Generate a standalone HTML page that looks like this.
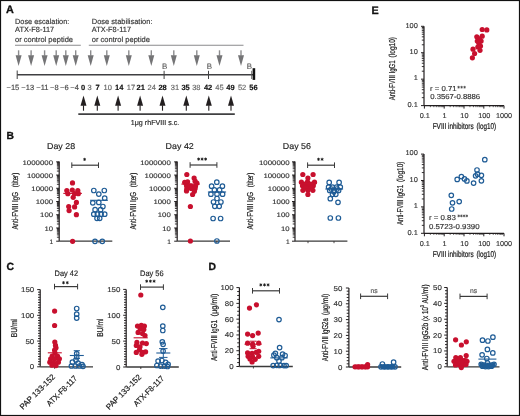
<!DOCTYPE html>
<html><head><meta charset="utf-8"><style>
html,body{margin:0;padding:0;background:#fff;}
svg{display:block;will-change:transform;}
text{text-rendering:geometricPrecision;}
svg{font-family:"Liberation Sans",sans-serif;}
</style></head><body>
<svg width="520" height="416" viewBox="0 0 520 416">
<rect x="0" y="0" width="520" height="416" fill="#fff"/>
<text x="6.0" y="13.4" font-size="10.8" text-anchor="start" font-weight="bold" fill="#111" stroke="#111" stroke-width="0.3">A</text>
<text x="15" y="23.5" font-size="7.6" text-anchor="start" font-weight="normal" fill="#333333" textLength="54.3" lengthAdjust="spacingAndGlyphs" stroke="#333333" stroke-width="0.15">Dose escalation:</text>
<text x="15" y="32.4" font-size="7.6" text-anchor="start" font-weight="normal" fill="#333333" textLength="39.2" lengthAdjust="spacingAndGlyphs" stroke="#333333" stroke-width="0.15">ATX-F8-117</text>
<text x="15" y="41.5" font-size="7.6" text-anchor="start" font-weight="normal" fill="#333333" textLength="58.0" lengthAdjust="spacingAndGlyphs" stroke="#333333" stroke-width="0.15">or control peptide</text>
<text x="91.8" y="23.5" font-size="7.6" text-anchor="start" font-weight="normal" fill="#333333" textLength="60.7" lengthAdjust="spacingAndGlyphs" stroke="#333333" stroke-width="0.15">Dose stabilisation:</text>
<text x="91.8" y="32.4" font-size="7.6" text-anchor="start" font-weight="normal" fill="#333333" textLength="39.2" lengthAdjust="spacingAndGlyphs" stroke="#333333" stroke-width="0.15">ATX-F8-117</text>
<text x="91.8" y="41.5" font-size="7.6" text-anchor="start" font-weight="normal" fill="#333333" textLength="58.2" lengthAdjust="spacingAndGlyphs" stroke="#333333" stroke-width="0.15">or control peptide</text>
<line x1="15" y1="45.2" x2="80.8" y2="45.2" stroke="#8a8a8c" stroke-width="1.1"/>
<line x1="88.8" y1="45.2" x2="243.5" y2="45.2" stroke="#8a8a8c" stroke-width="1.1"/>
<rect x="17.900000000000002" y="50.3" width="1.4" height="5.400000000000006" fill="#8c8c8e"/>
<path d="M15.600000000000001,55.2 L21.6,55.2 L18.6,66.0 Z" fill="#747476"/>
<rect x="30.400000000000002" y="50.3" width="1.4" height="5.400000000000006" fill="#8c8c8e"/>
<path d="M28.1,55.2 L34.1,55.2 L31.1,66.0 Z" fill="#747476"/>
<rect x="43.9" y="50.3" width="1.4" height="5.400000000000006" fill="#8c8c8e"/>
<path d="M41.6,55.2 L47.6,55.2 L44.6,66.0 Z" fill="#747476"/>
<rect x="55.5" y="50.3" width="1.4" height="5.400000000000006" fill="#8c8c8e"/>
<path d="M53.2,55.2 L59.2,55.2 L56.2,66.0 Z" fill="#747476"/>
<rect x="65.1" y="50.3" width="1.4" height="5.400000000000006" fill="#8c8c8e"/>
<path d="M62.8,55.2 L68.8,55.2 L65.8,66.0 Z" fill="#747476"/>
<rect x="75.0" y="50.3" width="1.4" height="5.400000000000006" fill="#8c8c8e"/>
<path d="M72.7,55.2 L78.7,55.2 L75.7,66.0 Z" fill="#747476"/>
<rect x="90.0" y="50.3" width="1.4" height="5.400000000000006" fill="#8c8c8e"/>
<path d="M87.7,55.2 L93.7,55.2 L90.7,66.0 Z" fill="#747476"/>
<rect x="106.1" y="50.3" width="1.4" height="5.400000000000006" fill="#8c8c8e"/>
<path d="M103.8,55.2 L109.8,55.2 L106.8,66.0 Z" fill="#747476"/>
<rect x="128.10000000000002" y="50.3" width="1.4" height="5.400000000000006" fill="#8c8c8e"/>
<path d="M125.80000000000001,55.2 L131.8,55.2 L128.8,66.0 Z" fill="#747476"/>
<rect x="150.60000000000002" y="50.3" width="1.4" height="5.400000000000006" fill="#8c8c8e"/>
<path d="M148.3,55.2 L154.3,55.2 L151.3,66.0 Z" fill="#747476"/>
<rect x="173.10000000000002" y="50.3" width="1.4" height="5.400000000000006" fill="#8c8c8e"/>
<path d="M170.8,55.2 L176.8,55.2 L173.8,66.0 Z" fill="#747476"/>
<rect x="196.10000000000002" y="50.3" width="1.4" height="5.400000000000006" fill="#8c8c8e"/>
<path d="M193.8,55.2 L199.8,55.2 L196.8,66.0 Z" fill="#747476"/>
<rect x="218.8" y="50.3" width="1.4" height="5.400000000000006" fill="#8c8c8e"/>
<path d="M216.5,55.2 L222.5,55.2 L219.5,66.0 Z" fill="#747476"/>
<rect x="240.3" y="50.3" width="1.4" height="5.400000000000006" fill="#8c8c8e"/>
<path d="M238.0,55.2 L244.0,55.2 L241.0,66.0 Z" fill="#747476"/>
<line x1="17.2" y1="74.8" x2="253" y2="74.8" stroke="#404042" stroke-width="1.6"/>
<line x1="17.2" y1="70.5" x2="17.2" y2="79.0" stroke="#404042" stroke-width="1.0"/>
<line x1="164.1" y1="70.8" x2="164.1" y2="79.0" stroke="#404042" stroke-width="1.0"/>
<line x1="208.5" y1="70.8" x2="208.5" y2="79.0" stroke="#404042" stroke-width="1.0"/>
<rect x="252.6" y="68.2" width="2.6" height="11.7" fill="#111"/>
<line x1="251.6" y1="70.8" x2="251.6" y2="79.0" stroke="#555" stroke-width="0.8"/>
<text x="164.6" y="68.5" font-size="7.9" text-anchor="middle" font-weight="normal" fill="#4a4a4a" stroke="#4a4a4a" stroke-width="0.05">B</text>
<text x="209.5" y="68.5" font-size="7.9" text-anchor="middle" font-weight="normal" fill="#4a4a4a" stroke="#4a4a4a" stroke-width="0.05">B</text>
<text x="249.5" y="68.5" font-size="7.9" text-anchor="middle" font-weight="normal" fill="#4a4a4a" stroke="#4a4a4a" stroke-width="0.05">B</text>
<text x="12.9" y="89.5" font-size="7.5" text-anchor="middle" font-weight="normal" fill="#444" stroke="#444" stroke-width="0.15">−15</text>
<text x="27.7" y="89.5" font-size="7.5" text-anchor="middle" font-weight="normal" fill="#444" stroke="#444" stroke-width="0.15">−13</text>
<text x="42.4" y="89.5" font-size="7.5" text-anchor="middle" font-weight="normal" fill="#444" stroke="#444" stroke-width="0.15">−11</text>
<text x="54.3" y="89.5" font-size="7.5" text-anchor="middle" font-weight="normal" fill="#444" stroke="#444" stroke-width="0.15">−8</text>
<text x="64.3" y="89.5" font-size="7.5" text-anchor="middle" font-weight="normal" fill="#444" stroke="#444" stroke-width="0.15">−6</text>
<text x="74.6" y="89.5" font-size="7.5" text-anchor="middle" font-weight="normal" fill="#444" stroke="#444" stroke-width="0.15">−4</text>
<text x="83.1" y="89.5" font-size="7.5" text-anchor="middle" font-weight="bold" fill="#111" stroke="#111" stroke-width="0.15">0</text>
<text x="89.5" y="89.5" font-size="7.5" text-anchor="middle" font-weight="normal" fill="#666" stroke="#666" stroke-width="0.15">3</text>
<text x="97.5" y="89.5" font-size="7.5" text-anchor="middle" font-weight="bold" fill="#111" stroke="#111" stroke-width="0.15">7</text>
<text x="107.7" y="89.5" font-size="7.5" text-anchor="middle" font-weight="normal" fill="#666" stroke="#666" stroke-width="0.15">10</text>
<text x="119.2" y="89.5" font-size="7.5" text-anchor="middle" font-weight="bold" fill="#111" stroke="#111" stroke-width="0.15">14</text>
<text x="131.0" y="89.5" font-size="7.5" text-anchor="middle" font-weight="normal" fill="#666" stroke="#666" stroke-width="0.15">17</text>
<text x="140.7" y="89.5" font-size="7.5" text-anchor="middle" font-weight="bold" fill="#111" stroke="#111" stroke-width="0.15">21</text>
<text x="151.7" y="89.5" font-size="7.5" text-anchor="middle" font-weight="normal" fill="#666" stroke="#666" stroke-width="0.15">24</text>
<text x="162.6" y="89.5" font-size="7.5" text-anchor="middle" font-weight="bold" fill="#111" stroke="#111" stroke-width="0.15">28</text>
<text x="175.0" y="89.5" font-size="7.5" text-anchor="middle" font-weight="normal" fill="#666" stroke="#666" stroke-width="0.15">31</text>
<text x="185.6" y="89.5" font-size="7.5" text-anchor="middle" font-weight="bold" fill="#111" stroke="#111" stroke-width="0.15">35</text>
<text x="196.3" y="89.5" font-size="7.5" text-anchor="middle" font-weight="normal" fill="#666" stroke="#666" stroke-width="0.15">38</text>
<text x="208.1" y="89.5" font-size="7.5" text-anchor="middle" font-weight="bold" fill="#111" stroke="#111" stroke-width="0.15">42</text>
<text x="219.4" y="89.5" font-size="7.5" text-anchor="middle" font-weight="normal" fill="#666" stroke="#666" stroke-width="0.15">45</text>
<text x="230.5" y="89.5" font-size="7.5" text-anchor="middle" font-weight="bold" fill="#111" stroke="#111" stroke-width="0.15">49</text>
<text x="242.1" y="89.5" font-size="7.5" text-anchor="middle" font-weight="normal" fill="#666" stroke="#666" stroke-width="0.15">52</text>
<text x="253.4" y="89.5" font-size="7.5" text-anchor="middle" font-weight="bold" fill="#111" stroke="#111" stroke-width="0.15">56</text>
<rect x="82.95" y="105.3" width="1.1" height="5.400000000000006" fill="#231f20"/>
<path d="M80.5,105.8 L86.5,105.8 L83.5,95.4 Z" fill="#231f20"/>
<rect x="96.75" y="105.3" width="1.1" height="5.400000000000006" fill="#231f20"/>
<path d="M94.3,105.8 L100.3,105.8 L97.3,95.4 Z" fill="#231f20"/>
<rect x="117.55" y="105.3" width="1.1" height="5.400000000000006" fill="#231f20"/>
<path d="M115.1,105.8 L121.1,105.8 L118.1,95.4 Z" fill="#231f20"/>
<rect x="139.54999999999998" y="105.3" width="1.1" height="5.400000000000006" fill="#231f20"/>
<path d="M137.1,105.8 L143.1,105.8 L140.1,95.4 Z" fill="#231f20"/>
<rect x="161.95" y="105.3" width="1.1" height="5.400000000000006" fill="#231f20"/>
<path d="M159.5,105.8 L165.5,105.8 L162.5,95.4 Z" fill="#231f20"/>
<rect x="185.75" y="105.3" width="1.1" height="5.400000000000006" fill="#231f20"/>
<path d="M183.3,105.8 L189.3,105.8 L186.3,95.4 Z" fill="#231f20"/>
<rect x="208.25" y="105.3" width="1.1" height="5.400000000000006" fill="#231f20"/>
<path d="M205.8,105.8 L211.8,105.8 L208.8,95.4 Z" fill="#231f20"/>
<rect x="230.45" y="105.3" width="1.1" height="5.400000000000006" fill="#231f20"/>
<path d="M228.0,105.8 L234.0,105.8 L231.0,95.4 Z" fill="#231f20"/>
<line x1="78.3" y1="114.1" x2="234.8" y2="114.1" stroke="#404042" stroke-width="1.6"/>
<text x="130.8" y="125.0" font-size="7.3" text-anchor="start" font-weight="normal" fill="#222" textLength="48.5" lengthAdjust="spacingAndGlyphs" stroke="#222" stroke-width="0.15">1μg rhFVIII s.c.</text>
<text x="6.6" y="139.4" font-size="10.3" text-anchor="start" font-weight="bold" fill="#111" stroke="#111" stroke-width="0.3">B</text>
<line x1="59.2" y1="161.5" x2="59.2" y2="241.2" stroke="#231f20" stroke-width="1.2"/>
<line x1="56.2" y1="241.2" x2="59.2" y2="241.2" stroke="#231f20" stroke-width="1.0"/>
<line x1="56.900000000000006" y1="237.21737315736553" x2="59.2" y2="237.21737315736553" stroke="#231f20" stroke-width="0.9"/>
<line x1="56.900000000000006" y1="234.88768580005885" x2="59.2" y2="234.88768580005885" stroke="#231f20" stroke-width="0.9"/>
<line x1="56.900000000000006" y1="233.23474631473104" x2="59.2" y2="233.23474631473104" stroke="#231f20" stroke-width="0.9"/>
<line x1="56.900000000000006" y1="231.95262684263446" x2="59.2" y2="231.95262684263446" stroke="#231f20" stroke-width="0.9"/>
<line x1="56.900000000000006" y1="230.9050589574244" x2="59.2" y2="230.9050589574244" stroke="#231f20" stroke-width="0.9"/>
<line x1="56.900000000000006" y1="230.01935293061138" x2="59.2" y2="230.01935293061138" stroke="#231f20" stroke-width="0.9"/>
<line x1="56.900000000000006" y1="229.25211947209658" x2="59.2" y2="229.25211947209658" stroke="#231f20" stroke-width="0.9"/>
<line x1="56.900000000000006" y1="228.5753716001177" x2="59.2" y2="228.5753716001177" stroke="#231f20" stroke-width="0.9"/>
<line x1="56.2" y1="227.97" x2="59.2" y2="227.97" stroke="#231f20" stroke-width="1.0"/>
<line x1="56.900000000000006" y1="223.98737315736554" x2="59.2" y2="223.98737315736554" stroke="#231f20" stroke-width="0.9"/>
<line x1="56.900000000000006" y1="221.65768580005886" x2="59.2" y2="221.65768580005886" stroke="#231f20" stroke-width="0.9"/>
<line x1="56.900000000000006" y1="220.00474631473105" x2="59.2" y2="220.00474631473105" stroke="#231f20" stroke-width="0.9"/>
<line x1="56.900000000000006" y1="218.72262684263447" x2="59.2" y2="218.72262684263447" stroke="#231f20" stroke-width="0.9"/>
<line x1="56.900000000000006" y1="217.6750589574244" x2="59.2" y2="217.6750589574244" stroke="#231f20" stroke-width="0.9"/>
<line x1="56.900000000000006" y1="216.7893529306114" x2="59.2" y2="216.7893529306114" stroke="#231f20" stroke-width="0.9"/>
<line x1="56.900000000000006" y1="216.0221194720966" x2="59.2" y2="216.0221194720966" stroke="#231f20" stroke-width="0.9"/>
<line x1="56.900000000000006" y1="215.34537160011774" x2="59.2" y2="215.34537160011774" stroke="#231f20" stroke-width="0.9"/>
<line x1="56.2" y1="214.73999999999998" x2="59.2" y2="214.73999999999998" stroke="#231f20" stroke-width="1.0"/>
<line x1="56.900000000000006" y1="210.75737315736552" x2="59.2" y2="210.75737315736552" stroke="#231f20" stroke-width="0.9"/>
<line x1="56.900000000000006" y1="208.42768580005884" x2="59.2" y2="208.42768580005884" stroke="#231f20" stroke-width="0.9"/>
<line x1="56.900000000000006" y1="206.77474631473103" x2="59.2" y2="206.77474631473103" stroke="#231f20" stroke-width="0.9"/>
<line x1="56.900000000000006" y1="205.49262684263445" x2="59.2" y2="205.49262684263445" stroke="#231f20" stroke-width="0.9"/>
<line x1="56.900000000000006" y1="204.44505895742438" x2="59.2" y2="204.44505895742438" stroke="#231f20" stroke-width="0.9"/>
<line x1="56.900000000000006" y1="203.55935293061137" x2="59.2" y2="203.55935293061137" stroke="#231f20" stroke-width="0.9"/>
<line x1="56.900000000000006" y1="202.79211947209657" x2="59.2" y2="202.79211947209657" stroke="#231f20" stroke-width="0.9"/>
<line x1="56.900000000000006" y1="202.11537160011773" x2="59.2" y2="202.11537160011773" stroke="#231f20" stroke-width="0.9"/>
<line x1="56.2" y1="201.51" x2="59.2" y2="201.51" stroke="#231f20" stroke-width="1.0"/>
<line x1="56.900000000000006" y1="197.52737315736553" x2="59.2" y2="197.52737315736553" stroke="#231f20" stroke-width="0.9"/>
<line x1="56.900000000000006" y1="195.19768580005885" x2="59.2" y2="195.19768580005885" stroke="#231f20" stroke-width="0.9"/>
<line x1="56.900000000000006" y1="193.54474631473104" x2="59.2" y2="193.54474631473104" stroke="#231f20" stroke-width="0.9"/>
<line x1="56.900000000000006" y1="192.26262684263446" x2="59.2" y2="192.26262684263446" stroke="#231f20" stroke-width="0.9"/>
<line x1="56.900000000000006" y1="191.2150589574244" x2="59.2" y2="191.2150589574244" stroke="#231f20" stroke-width="0.9"/>
<line x1="56.900000000000006" y1="190.32935293061138" x2="59.2" y2="190.32935293061138" stroke="#231f20" stroke-width="0.9"/>
<line x1="56.900000000000006" y1="189.56211947209658" x2="59.2" y2="189.56211947209658" stroke="#231f20" stroke-width="0.9"/>
<line x1="56.900000000000006" y1="188.8853716001177" x2="59.2" y2="188.8853716001177" stroke="#231f20" stroke-width="0.9"/>
<line x1="56.2" y1="188.27999999999997" x2="59.2" y2="188.27999999999997" stroke="#231f20" stroke-width="1.0"/>
<line x1="56.900000000000006" y1="184.2973731573655" x2="59.2" y2="184.2973731573655" stroke="#231f20" stroke-width="0.9"/>
<line x1="56.900000000000006" y1="181.96768580005883" x2="59.2" y2="181.96768580005883" stroke="#231f20" stroke-width="0.9"/>
<line x1="56.900000000000006" y1="180.31474631473102" x2="59.2" y2="180.31474631473102" stroke="#231f20" stroke-width="0.9"/>
<line x1="56.900000000000006" y1="179.03262684263444" x2="59.2" y2="179.03262684263444" stroke="#231f20" stroke-width="0.9"/>
<line x1="56.900000000000006" y1="177.98505895742437" x2="59.2" y2="177.98505895742437" stroke="#231f20" stroke-width="0.9"/>
<line x1="56.900000000000006" y1="177.09935293061136" x2="59.2" y2="177.09935293061136" stroke="#231f20" stroke-width="0.9"/>
<line x1="56.900000000000006" y1="176.33211947209657" x2="59.2" y2="176.33211947209657" stroke="#231f20" stroke-width="0.9"/>
<line x1="56.900000000000006" y1="175.6553716001177" x2="59.2" y2="175.6553716001177" stroke="#231f20" stroke-width="0.9"/>
<line x1="56.2" y1="175.04999999999998" x2="59.2" y2="175.04999999999998" stroke="#231f20" stroke-width="1.0"/>
<line x1="56.900000000000006" y1="171.06737315736552" x2="59.2" y2="171.06737315736552" stroke="#231f20" stroke-width="0.9"/>
<line x1="56.900000000000006" y1="168.73768580005884" x2="59.2" y2="168.73768580005884" stroke="#231f20" stroke-width="0.9"/>
<line x1="56.900000000000006" y1="167.08474631473103" x2="59.2" y2="167.08474631473103" stroke="#231f20" stroke-width="0.9"/>
<line x1="56.900000000000006" y1="165.80262684263445" x2="59.2" y2="165.80262684263445" stroke="#231f20" stroke-width="0.9"/>
<line x1="56.900000000000006" y1="164.75505895742438" x2="59.2" y2="164.75505895742438" stroke="#231f20" stroke-width="0.9"/>
<line x1="56.900000000000006" y1="163.86935293061137" x2="59.2" y2="163.86935293061137" stroke="#231f20" stroke-width="0.9"/>
<line x1="56.900000000000006" y1="163.10211947209658" x2="59.2" y2="163.10211947209658" stroke="#231f20" stroke-width="0.9"/>
<line x1="56.900000000000006" y1="162.42537160011773" x2="59.2" y2="162.42537160011773" stroke="#231f20" stroke-width="0.9"/>
<line x1="56.2" y1="161.82" x2="59.2" y2="161.82" stroke="#231f20" stroke-width="1.0"/>
<text x="53.1" y="243.95" font-size="6.6" text-anchor="end" font-weight="normal" fill="#333333" stroke="#333333" stroke-width="0.15">1</text>
<text x="53.1" y="230.72" font-size="6.6" text-anchor="end" font-weight="normal" fill="#333333" textLength="8.6" lengthAdjust="spacingAndGlyphs" stroke="#333333" stroke-width="0.15">10</text>
<text x="53.1" y="217.48999999999998" font-size="6.6" text-anchor="end" font-weight="normal" fill="#333333" textLength="13.0" lengthAdjust="spacingAndGlyphs" stroke="#333333" stroke-width="0.15">100</text>
<text x="53.1" y="204.26" font-size="6.6" text-anchor="end" font-weight="normal" fill="#333333" textLength="17.4" lengthAdjust="spacingAndGlyphs" stroke="#333333" stroke-width="0.15">1000</text>
<text x="53.1" y="191.02999999999997" font-size="6.6" text-anchor="end" font-weight="normal" fill="#333333" textLength="21.8" lengthAdjust="spacingAndGlyphs" stroke="#333333" stroke-width="0.15">10000</text>
<text x="53.1" y="177.79999999999998" font-size="6.6" text-anchor="end" font-weight="normal" fill="#333333" textLength="26.2" lengthAdjust="spacingAndGlyphs" stroke="#333333" stroke-width="0.15">100000</text>
<text x="53.1" y="164.57" font-size="6.6" text-anchor="end" font-weight="normal" fill="#333333" textLength="30.6" lengthAdjust="spacingAndGlyphs" stroke="#333333" stroke-width="0.15">1000000</text>
<line x1="59.2" y1="241.2" x2="112.3" y2="241.2" stroke="#3a3a3a" stroke-width="1.3"/>
<line x1="72.6" y1="241.2" x2="72.6" y2="243.2" stroke="#231f20" stroke-width="0.8"/>
<line x1="99.0" y1="241.2" x2="99.0" y2="243.2" stroke="#231f20" stroke-width="0.8"/>
<text x="47.0" y="149.4" font-size="8.5" text-anchor="start" font-weight="normal" fill="#222" textLength="28.2" lengthAdjust="spacingAndGlyphs" stroke="#222" stroke-width="0.15">Day 28</text>
<text transform="translate(17.6,229.6) rotate(-90)" x="0" y="0" font-size="8.6" text-anchor="start" font-weight="normal" fill="#1a1a1a" textLength="37.6" lengthAdjust="spacingAndGlyphs" stroke="#1a1a1a" stroke-width="0.22">Anti-FVIII IgG</text>
<text transform="translate(17.6,187.2) rotate(-90)" x="0" y="0" font-size="8.6" text-anchor="start" font-weight="normal" fill="#1a1a1a" textLength="14.4" lengthAdjust="spacingAndGlyphs" stroke="#1a1a1a" stroke-width="0.22">(titer)</text>
<line x1="177.2" y1="161.5" x2="177.2" y2="241.2" stroke="#231f20" stroke-width="1.2"/>
<line x1="174.2" y1="241.2" x2="177.2" y2="241.2" stroke="#231f20" stroke-width="1.0"/>
<line x1="174.89999999999998" y1="237.21737315736553" x2="177.2" y2="237.21737315736553" stroke="#231f20" stroke-width="0.9"/>
<line x1="174.89999999999998" y1="234.88768580005885" x2="177.2" y2="234.88768580005885" stroke="#231f20" stroke-width="0.9"/>
<line x1="174.89999999999998" y1="233.23474631473104" x2="177.2" y2="233.23474631473104" stroke="#231f20" stroke-width="0.9"/>
<line x1="174.89999999999998" y1="231.95262684263446" x2="177.2" y2="231.95262684263446" stroke="#231f20" stroke-width="0.9"/>
<line x1="174.89999999999998" y1="230.9050589574244" x2="177.2" y2="230.9050589574244" stroke="#231f20" stroke-width="0.9"/>
<line x1="174.89999999999998" y1="230.01935293061138" x2="177.2" y2="230.01935293061138" stroke="#231f20" stroke-width="0.9"/>
<line x1="174.89999999999998" y1="229.25211947209658" x2="177.2" y2="229.25211947209658" stroke="#231f20" stroke-width="0.9"/>
<line x1="174.89999999999998" y1="228.5753716001177" x2="177.2" y2="228.5753716001177" stroke="#231f20" stroke-width="0.9"/>
<line x1="174.2" y1="227.97" x2="177.2" y2="227.97" stroke="#231f20" stroke-width="1.0"/>
<line x1="174.89999999999998" y1="223.98737315736554" x2="177.2" y2="223.98737315736554" stroke="#231f20" stroke-width="0.9"/>
<line x1="174.89999999999998" y1="221.65768580005886" x2="177.2" y2="221.65768580005886" stroke="#231f20" stroke-width="0.9"/>
<line x1="174.89999999999998" y1="220.00474631473105" x2="177.2" y2="220.00474631473105" stroke="#231f20" stroke-width="0.9"/>
<line x1="174.89999999999998" y1="218.72262684263447" x2="177.2" y2="218.72262684263447" stroke="#231f20" stroke-width="0.9"/>
<line x1="174.89999999999998" y1="217.6750589574244" x2="177.2" y2="217.6750589574244" stroke="#231f20" stroke-width="0.9"/>
<line x1="174.89999999999998" y1="216.7893529306114" x2="177.2" y2="216.7893529306114" stroke="#231f20" stroke-width="0.9"/>
<line x1="174.89999999999998" y1="216.0221194720966" x2="177.2" y2="216.0221194720966" stroke="#231f20" stroke-width="0.9"/>
<line x1="174.89999999999998" y1="215.34537160011774" x2="177.2" y2="215.34537160011774" stroke="#231f20" stroke-width="0.9"/>
<line x1="174.2" y1="214.73999999999998" x2="177.2" y2="214.73999999999998" stroke="#231f20" stroke-width="1.0"/>
<line x1="174.89999999999998" y1="210.75737315736552" x2="177.2" y2="210.75737315736552" stroke="#231f20" stroke-width="0.9"/>
<line x1="174.89999999999998" y1="208.42768580005884" x2="177.2" y2="208.42768580005884" stroke="#231f20" stroke-width="0.9"/>
<line x1="174.89999999999998" y1="206.77474631473103" x2="177.2" y2="206.77474631473103" stroke="#231f20" stroke-width="0.9"/>
<line x1="174.89999999999998" y1="205.49262684263445" x2="177.2" y2="205.49262684263445" stroke="#231f20" stroke-width="0.9"/>
<line x1="174.89999999999998" y1="204.44505895742438" x2="177.2" y2="204.44505895742438" stroke="#231f20" stroke-width="0.9"/>
<line x1="174.89999999999998" y1="203.55935293061137" x2="177.2" y2="203.55935293061137" stroke="#231f20" stroke-width="0.9"/>
<line x1="174.89999999999998" y1="202.79211947209657" x2="177.2" y2="202.79211947209657" stroke="#231f20" stroke-width="0.9"/>
<line x1="174.89999999999998" y1="202.11537160011773" x2="177.2" y2="202.11537160011773" stroke="#231f20" stroke-width="0.9"/>
<line x1="174.2" y1="201.51" x2="177.2" y2="201.51" stroke="#231f20" stroke-width="1.0"/>
<line x1="174.89999999999998" y1="197.52737315736553" x2="177.2" y2="197.52737315736553" stroke="#231f20" stroke-width="0.9"/>
<line x1="174.89999999999998" y1="195.19768580005885" x2="177.2" y2="195.19768580005885" stroke="#231f20" stroke-width="0.9"/>
<line x1="174.89999999999998" y1="193.54474631473104" x2="177.2" y2="193.54474631473104" stroke="#231f20" stroke-width="0.9"/>
<line x1="174.89999999999998" y1="192.26262684263446" x2="177.2" y2="192.26262684263446" stroke="#231f20" stroke-width="0.9"/>
<line x1="174.89999999999998" y1="191.2150589574244" x2="177.2" y2="191.2150589574244" stroke="#231f20" stroke-width="0.9"/>
<line x1="174.89999999999998" y1="190.32935293061138" x2="177.2" y2="190.32935293061138" stroke="#231f20" stroke-width="0.9"/>
<line x1="174.89999999999998" y1="189.56211947209658" x2="177.2" y2="189.56211947209658" stroke="#231f20" stroke-width="0.9"/>
<line x1="174.89999999999998" y1="188.8853716001177" x2="177.2" y2="188.8853716001177" stroke="#231f20" stroke-width="0.9"/>
<line x1="174.2" y1="188.27999999999997" x2="177.2" y2="188.27999999999997" stroke="#231f20" stroke-width="1.0"/>
<line x1="174.89999999999998" y1="184.2973731573655" x2="177.2" y2="184.2973731573655" stroke="#231f20" stroke-width="0.9"/>
<line x1="174.89999999999998" y1="181.96768580005883" x2="177.2" y2="181.96768580005883" stroke="#231f20" stroke-width="0.9"/>
<line x1="174.89999999999998" y1="180.31474631473102" x2="177.2" y2="180.31474631473102" stroke="#231f20" stroke-width="0.9"/>
<line x1="174.89999999999998" y1="179.03262684263444" x2="177.2" y2="179.03262684263444" stroke="#231f20" stroke-width="0.9"/>
<line x1="174.89999999999998" y1="177.98505895742437" x2="177.2" y2="177.98505895742437" stroke="#231f20" stroke-width="0.9"/>
<line x1="174.89999999999998" y1="177.09935293061136" x2="177.2" y2="177.09935293061136" stroke="#231f20" stroke-width="0.9"/>
<line x1="174.89999999999998" y1="176.33211947209657" x2="177.2" y2="176.33211947209657" stroke="#231f20" stroke-width="0.9"/>
<line x1="174.89999999999998" y1="175.6553716001177" x2="177.2" y2="175.6553716001177" stroke="#231f20" stroke-width="0.9"/>
<line x1="174.2" y1="175.04999999999998" x2="177.2" y2="175.04999999999998" stroke="#231f20" stroke-width="1.0"/>
<line x1="174.89999999999998" y1="171.06737315736552" x2="177.2" y2="171.06737315736552" stroke="#231f20" stroke-width="0.9"/>
<line x1="174.89999999999998" y1="168.73768580005884" x2="177.2" y2="168.73768580005884" stroke="#231f20" stroke-width="0.9"/>
<line x1="174.89999999999998" y1="167.08474631473103" x2="177.2" y2="167.08474631473103" stroke="#231f20" stroke-width="0.9"/>
<line x1="174.89999999999998" y1="165.80262684263445" x2="177.2" y2="165.80262684263445" stroke="#231f20" stroke-width="0.9"/>
<line x1="174.89999999999998" y1="164.75505895742438" x2="177.2" y2="164.75505895742438" stroke="#231f20" stroke-width="0.9"/>
<line x1="174.89999999999998" y1="163.86935293061137" x2="177.2" y2="163.86935293061137" stroke="#231f20" stroke-width="0.9"/>
<line x1="174.89999999999998" y1="163.10211947209658" x2="177.2" y2="163.10211947209658" stroke="#231f20" stroke-width="0.9"/>
<line x1="174.89999999999998" y1="162.42537160011773" x2="177.2" y2="162.42537160011773" stroke="#231f20" stroke-width="0.9"/>
<line x1="174.2" y1="161.82" x2="177.2" y2="161.82" stroke="#231f20" stroke-width="1.0"/>
<text x="170.8" y="243.95" font-size="6.6" text-anchor="end" font-weight="normal" fill="#333333" stroke="#333333" stroke-width="0.15">1</text>
<text x="170.8" y="230.72" font-size="6.6" text-anchor="end" font-weight="normal" fill="#333333" textLength="8.6" lengthAdjust="spacingAndGlyphs" stroke="#333333" stroke-width="0.15">10</text>
<text x="170.8" y="217.48999999999998" font-size="6.6" text-anchor="end" font-weight="normal" fill="#333333" textLength="13.0" lengthAdjust="spacingAndGlyphs" stroke="#333333" stroke-width="0.15">100</text>
<text x="170.8" y="204.26" font-size="6.6" text-anchor="end" font-weight="normal" fill="#333333" textLength="17.4" lengthAdjust="spacingAndGlyphs" stroke="#333333" stroke-width="0.15">1000</text>
<text x="170.8" y="191.02999999999997" font-size="6.6" text-anchor="end" font-weight="normal" fill="#333333" textLength="21.8" lengthAdjust="spacingAndGlyphs" stroke="#333333" stroke-width="0.15">10000</text>
<text x="170.8" y="177.79999999999998" font-size="6.6" text-anchor="end" font-weight="normal" fill="#333333" textLength="26.2" lengthAdjust="spacingAndGlyphs" stroke="#333333" stroke-width="0.15">100000</text>
<text x="170.8" y="164.57" font-size="6.6" text-anchor="end" font-weight="normal" fill="#333333" textLength="30.6" lengthAdjust="spacingAndGlyphs" stroke="#333333" stroke-width="0.15">1000000</text>
<line x1="177.2" y1="241.2" x2="230.0" y2="241.2" stroke="#3a3a3a" stroke-width="1.3"/>
<line x1="190.4" y1="241.2" x2="190.4" y2="243.2" stroke="#231f20" stroke-width="0.8"/>
<line x1="216.8" y1="241.2" x2="216.8" y2="243.2" stroke="#231f20" stroke-width="0.8"/>
<text x="165.6" y="149.4" font-size="8.5" text-anchor="start" font-weight="normal" fill="#222" textLength="28.2" lengthAdjust="spacingAndGlyphs" stroke="#222" stroke-width="0.15">Day 42</text>
<text transform="translate(135.6,229.6) rotate(-90)" x="0" y="0" font-size="8.6" text-anchor="start" font-weight="normal" fill="#1a1a1a" textLength="37.6" lengthAdjust="spacingAndGlyphs" stroke="#1a1a1a" stroke-width="0.22">Anti-FVIII IgG</text>
<text transform="translate(135.6,187.2) rotate(-90)" x="0" y="0" font-size="8.6" text-anchor="start" font-weight="normal" fill="#1a1a1a" textLength="14.4" lengthAdjust="spacingAndGlyphs" stroke="#1a1a1a" stroke-width="0.22">(titer)</text>
<line x1="295.0" y1="161.5" x2="295.0" y2="241.2" stroke="#231f20" stroke-width="1.2"/>
<line x1="292.0" y1="241.2" x2="295.0" y2="241.2" stroke="#231f20" stroke-width="1.0"/>
<line x1="292.7" y1="237.21737315736553" x2="295.0" y2="237.21737315736553" stroke="#231f20" stroke-width="0.9"/>
<line x1="292.7" y1="234.88768580005885" x2="295.0" y2="234.88768580005885" stroke="#231f20" stroke-width="0.9"/>
<line x1="292.7" y1="233.23474631473104" x2="295.0" y2="233.23474631473104" stroke="#231f20" stroke-width="0.9"/>
<line x1="292.7" y1="231.95262684263446" x2="295.0" y2="231.95262684263446" stroke="#231f20" stroke-width="0.9"/>
<line x1="292.7" y1="230.9050589574244" x2="295.0" y2="230.9050589574244" stroke="#231f20" stroke-width="0.9"/>
<line x1="292.7" y1="230.01935293061138" x2="295.0" y2="230.01935293061138" stroke="#231f20" stroke-width="0.9"/>
<line x1="292.7" y1="229.25211947209658" x2="295.0" y2="229.25211947209658" stroke="#231f20" stroke-width="0.9"/>
<line x1="292.7" y1="228.5753716001177" x2="295.0" y2="228.5753716001177" stroke="#231f20" stroke-width="0.9"/>
<line x1="292.0" y1="227.97" x2="295.0" y2="227.97" stroke="#231f20" stroke-width="1.0"/>
<line x1="292.7" y1="223.98737315736554" x2="295.0" y2="223.98737315736554" stroke="#231f20" stroke-width="0.9"/>
<line x1="292.7" y1="221.65768580005886" x2="295.0" y2="221.65768580005886" stroke="#231f20" stroke-width="0.9"/>
<line x1="292.7" y1="220.00474631473105" x2="295.0" y2="220.00474631473105" stroke="#231f20" stroke-width="0.9"/>
<line x1="292.7" y1="218.72262684263447" x2="295.0" y2="218.72262684263447" stroke="#231f20" stroke-width="0.9"/>
<line x1="292.7" y1="217.6750589574244" x2="295.0" y2="217.6750589574244" stroke="#231f20" stroke-width="0.9"/>
<line x1="292.7" y1="216.7893529306114" x2="295.0" y2="216.7893529306114" stroke="#231f20" stroke-width="0.9"/>
<line x1="292.7" y1="216.0221194720966" x2="295.0" y2="216.0221194720966" stroke="#231f20" stroke-width="0.9"/>
<line x1="292.7" y1="215.34537160011774" x2="295.0" y2="215.34537160011774" stroke="#231f20" stroke-width="0.9"/>
<line x1="292.0" y1="214.73999999999998" x2="295.0" y2="214.73999999999998" stroke="#231f20" stroke-width="1.0"/>
<line x1="292.7" y1="210.75737315736552" x2="295.0" y2="210.75737315736552" stroke="#231f20" stroke-width="0.9"/>
<line x1="292.7" y1="208.42768580005884" x2="295.0" y2="208.42768580005884" stroke="#231f20" stroke-width="0.9"/>
<line x1="292.7" y1="206.77474631473103" x2="295.0" y2="206.77474631473103" stroke="#231f20" stroke-width="0.9"/>
<line x1="292.7" y1="205.49262684263445" x2="295.0" y2="205.49262684263445" stroke="#231f20" stroke-width="0.9"/>
<line x1="292.7" y1="204.44505895742438" x2="295.0" y2="204.44505895742438" stroke="#231f20" stroke-width="0.9"/>
<line x1="292.7" y1="203.55935293061137" x2="295.0" y2="203.55935293061137" stroke="#231f20" stroke-width="0.9"/>
<line x1="292.7" y1="202.79211947209657" x2="295.0" y2="202.79211947209657" stroke="#231f20" stroke-width="0.9"/>
<line x1="292.7" y1="202.11537160011773" x2="295.0" y2="202.11537160011773" stroke="#231f20" stroke-width="0.9"/>
<line x1="292.0" y1="201.51" x2="295.0" y2="201.51" stroke="#231f20" stroke-width="1.0"/>
<line x1="292.7" y1="197.52737315736553" x2="295.0" y2="197.52737315736553" stroke="#231f20" stroke-width="0.9"/>
<line x1="292.7" y1="195.19768580005885" x2="295.0" y2="195.19768580005885" stroke="#231f20" stroke-width="0.9"/>
<line x1="292.7" y1="193.54474631473104" x2="295.0" y2="193.54474631473104" stroke="#231f20" stroke-width="0.9"/>
<line x1="292.7" y1="192.26262684263446" x2="295.0" y2="192.26262684263446" stroke="#231f20" stroke-width="0.9"/>
<line x1="292.7" y1="191.2150589574244" x2="295.0" y2="191.2150589574244" stroke="#231f20" stroke-width="0.9"/>
<line x1="292.7" y1="190.32935293061138" x2="295.0" y2="190.32935293061138" stroke="#231f20" stroke-width="0.9"/>
<line x1="292.7" y1="189.56211947209658" x2="295.0" y2="189.56211947209658" stroke="#231f20" stroke-width="0.9"/>
<line x1="292.7" y1="188.8853716001177" x2="295.0" y2="188.8853716001177" stroke="#231f20" stroke-width="0.9"/>
<line x1="292.0" y1="188.27999999999997" x2="295.0" y2="188.27999999999997" stroke="#231f20" stroke-width="1.0"/>
<line x1="292.7" y1="184.2973731573655" x2="295.0" y2="184.2973731573655" stroke="#231f20" stroke-width="0.9"/>
<line x1="292.7" y1="181.96768580005883" x2="295.0" y2="181.96768580005883" stroke="#231f20" stroke-width="0.9"/>
<line x1="292.7" y1="180.31474631473102" x2="295.0" y2="180.31474631473102" stroke="#231f20" stroke-width="0.9"/>
<line x1="292.7" y1="179.03262684263444" x2="295.0" y2="179.03262684263444" stroke="#231f20" stroke-width="0.9"/>
<line x1="292.7" y1="177.98505895742437" x2="295.0" y2="177.98505895742437" stroke="#231f20" stroke-width="0.9"/>
<line x1="292.7" y1="177.09935293061136" x2="295.0" y2="177.09935293061136" stroke="#231f20" stroke-width="0.9"/>
<line x1="292.7" y1="176.33211947209657" x2="295.0" y2="176.33211947209657" stroke="#231f20" stroke-width="0.9"/>
<line x1="292.7" y1="175.6553716001177" x2="295.0" y2="175.6553716001177" stroke="#231f20" stroke-width="0.9"/>
<line x1="292.0" y1="175.04999999999998" x2="295.0" y2="175.04999999999998" stroke="#231f20" stroke-width="1.0"/>
<line x1="292.7" y1="171.06737315736552" x2="295.0" y2="171.06737315736552" stroke="#231f20" stroke-width="0.9"/>
<line x1="292.7" y1="168.73768580005884" x2="295.0" y2="168.73768580005884" stroke="#231f20" stroke-width="0.9"/>
<line x1="292.7" y1="167.08474631473103" x2="295.0" y2="167.08474631473103" stroke="#231f20" stroke-width="0.9"/>
<line x1="292.7" y1="165.80262684263445" x2="295.0" y2="165.80262684263445" stroke="#231f20" stroke-width="0.9"/>
<line x1="292.7" y1="164.75505895742438" x2="295.0" y2="164.75505895742438" stroke="#231f20" stroke-width="0.9"/>
<line x1="292.7" y1="163.86935293061137" x2="295.0" y2="163.86935293061137" stroke="#231f20" stroke-width="0.9"/>
<line x1="292.7" y1="163.10211947209658" x2="295.0" y2="163.10211947209658" stroke="#231f20" stroke-width="0.9"/>
<line x1="292.7" y1="162.42537160011773" x2="295.0" y2="162.42537160011773" stroke="#231f20" stroke-width="0.9"/>
<line x1="292.0" y1="161.82" x2="295.0" y2="161.82" stroke="#231f20" stroke-width="1.0"/>
<text x="289.6" y="243.95" font-size="6.6" text-anchor="end" font-weight="normal" fill="#333333" stroke="#333333" stroke-width="0.15">1</text>
<text x="289.6" y="230.72" font-size="6.6" text-anchor="end" font-weight="normal" fill="#333333" textLength="8.6" lengthAdjust="spacingAndGlyphs" stroke="#333333" stroke-width="0.15">10</text>
<text x="289.6" y="217.48999999999998" font-size="6.6" text-anchor="end" font-weight="normal" fill="#333333" textLength="13.0" lengthAdjust="spacingAndGlyphs" stroke="#333333" stroke-width="0.15">100</text>
<text x="289.6" y="204.26" font-size="6.6" text-anchor="end" font-weight="normal" fill="#333333" textLength="17.4" lengthAdjust="spacingAndGlyphs" stroke="#333333" stroke-width="0.15">1000</text>
<text x="289.6" y="191.02999999999997" font-size="6.6" text-anchor="end" font-weight="normal" fill="#333333" textLength="21.8" lengthAdjust="spacingAndGlyphs" stroke="#333333" stroke-width="0.15">10000</text>
<text x="289.6" y="177.79999999999998" font-size="6.6" text-anchor="end" font-weight="normal" fill="#333333" textLength="26.2" lengthAdjust="spacingAndGlyphs" stroke="#333333" stroke-width="0.15">100000</text>
<text x="289.6" y="164.57" font-size="6.6" text-anchor="end" font-weight="normal" fill="#333333" textLength="30.6" lengthAdjust="spacingAndGlyphs" stroke="#333333" stroke-width="0.15">1000000</text>
<line x1="295.0" y1="241.2" x2="347.4" y2="241.2" stroke="#3a3a3a" stroke-width="1.3"/>
<line x1="308.0" y1="241.2" x2="308.0" y2="243.2" stroke="#231f20" stroke-width="0.8"/>
<line x1="334.0" y1="241.2" x2="334.0" y2="243.2" stroke="#231f20" stroke-width="0.8"/>
<text x="282.8" y="149.4" font-size="8.5" text-anchor="start" font-weight="normal" fill="#222" textLength="28.2" lengthAdjust="spacingAndGlyphs" stroke="#222" stroke-width="0.15">Day 56</text>
<text transform="translate(252.5,229.6) rotate(-90)" x="0" y="0" font-size="8.6" text-anchor="start" font-weight="normal" fill="#1a1a1a" textLength="37.6" lengthAdjust="spacingAndGlyphs" stroke="#1a1a1a" stroke-width="0.22">Anti-FVIII IgG</text>
<text transform="translate(252.5,187.2) rotate(-90)" x="0" y="0" font-size="8.6" text-anchor="start" font-weight="normal" fill="#1a1a1a" textLength="14.4" lengthAdjust="spacingAndGlyphs" stroke="#1a1a1a" stroke-width="0.22">(titer)</text>
<line x1="71.8" y1="165.2" x2="98.5" y2="165.2" stroke="#3a3a3a" stroke-width="1.2"/>
<line x1="71.8" y1="162.39999999999998" x2="71.8" y2="168.0" stroke="#3a3a3a" stroke-width="1.0"/>
<line x1="98.5" y1="162.39999999999998" x2="98.5" y2="168.0" stroke="#3a3a3a" stroke-width="1.0"/>
<path d="M84.60,158.25L84.60,160.55M83.60,158.83L85.60,159.97M85.60,158.83L83.60,159.97" stroke="#1a1a1a" stroke-width="0.85" stroke-linecap="round"/>
<circle cx="84.6" cy="159.4" r="0.55" fill="#1a1a1a"/>
<line x1="190.1" y1="165.0" x2="216.9" y2="165.0" stroke="#3a3a3a" stroke-width="1.2"/>
<line x1="190.1" y1="162.2" x2="190.1" y2="167.8" stroke="#3a3a3a" stroke-width="1.0"/>
<line x1="216.9" y1="162.2" x2="216.9" y2="167.8" stroke="#3a3a3a" stroke-width="1.0"/>
<path d="M198.60,157.95L198.60,160.25M197.60,158.53L199.60,159.67M199.60,158.53L197.60,159.67" stroke="#1a1a1a" stroke-width="0.85" stroke-linecap="round"/>
<circle cx="198.6" cy="159.1" r="0.55" fill="#1a1a1a"/>
<path d="M202.10,157.95L202.10,160.25M201.10,158.53L203.10,159.67M203.10,158.53L201.10,159.67" stroke="#1a1a1a" stroke-width="0.85" stroke-linecap="round"/>
<circle cx="202.1" cy="159.1" r="0.55" fill="#1a1a1a"/>
<path d="M205.60,157.95L205.60,160.25M204.60,158.53L206.60,159.67M206.60,158.53L204.60,159.67" stroke="#1a1a1a" stroke-width="0.85" stroke-linecap="round"/>
<circle cx="205.6" cy="159.1" r="0.55" fill="#1a1a1a"/>
<line x1="307.6" y1="165.2" x2="334.5" y2="165.2" stroke="#3a3a3a" stroke-width="1.2"/>
<line x1="307.6" y1="162.39999999999998" x2="307.6" y2="168.0" stroke="#3a3a3a" stroke-width="1.0"/>
<line x1="334.5" y1="162.39999999999998" x2="334.5" y2="168.0" stroke="#3a3a3a" stroke-width="1.0"/>
<path d="M318.50,158.15L318.50,160.45M317.50,158.73L319.50,159.88M319.50,158.73L317.50,159.88" stroke="#1a1a1a" stroke-width="0.85" stroke-linecap="round"/>
<circle cx="318.5" cy="159.3" r="0.55" fill="#1a1a1a"/>
<path d="M322.10,158.15L322.10,160.45M321.10,158.73L323.10,159.88M323.10,158.73L321.10,159.88" stroke="#1a1a1a" stroke-width="0.85" stroke-linecap="round"/>
<circle cx="322.1" cy="159.3" r="0.55" fill="#1a1a1a"/>
<circle cx="72.50" cy="182.90" r="2.6" fill="#c8102e"/>
<circle cx="66.80" cy="190.50" r="2.6" fill="#c8102e"/>
<circle cx="72.30" cy="190.00" r="2.6" fill="#c8102e"/>
<circle cx="77.80" cy="190.50" r="2.6" fill="#c8102e"/>
<circle cx="67.80" cy="193.70" r="2.6" fill="#c8102e"/>
<circle cx="74.60" cy="193.70" r="2.6" fill="#c8102e"/>
<circle cx="78.30" cy="193.70" r="2.6" fill="#c8102e"/>
<circle cx="73.20" cy="197.30" r="2.6" fill="#c8102e"/>
<circle cx="76.40" cy="202.40" r="2.6" fill="#c8102e"/>
<circle cx="68.70" cy="206.50" r="2.6" fill="#c8102e"/>
<circle cx="74.60" cy="206.90" r="2.6" fill="#c8102e"/>
<circle cx="69.10" cy="210.60" r="2.6" fill="#c8102e"/>
<circle cx="76.40" cy="214.70" r="2.6" fill="#c8102e"/>
<circle cx="72.60" cy="241.30" r="2.6" fill="#c8102e"/>
<line x1="63.3" y1="193.4" x2="81.89999999999999" y2="193.4" stroke="#c8102e" stroke-width="1.1"/>
<circle cx="93.80" cy="190.50" r="2.25" fill="none" stroke="#1f5c96" stroke-width="1.2"/>
<circle cx="104.30" cy="190.50" r="2.25" fill="none" stroke="#1f5c96" stroke-width="1.2"/>
<circle cx="98.80" cy="194.10" r="2.25" fill="none" stroke="#1f5c96" stroke-width="1.2"/>
<circle cx="104.70" cy="198.20" r="2.25" fill="none" stroke="#1f5c96" stroke-width="1.2"/>
<circle cx="92.80" cy="202.80" r="2.25" fill="none" stroke="#1f5c96" stroke-width="1.2"/>
<circle cx="98.80" cy="202.40" r="2.25" fill="none" stroke="#1f5c96" stroke-width="1.2"/>
<circle cx="102.90" cy="206.50" r="2.25" fill="none" stroke="#1f5c96" stroke-width="1.2"/>
<circle cx="95.10" cy="209.70" r="2.25" fill="none" stroke="#1f5c96" stroke-width="1.2"/>
<circle cx="100.60" cy="209.70" r="2.25" fill="none" stroke="#1f5c96" stroke-width="1.2"/>
<circle cx="93.80" cy="214.20" r="2.25" fill="none" stroke="#1f5c96" stroke-width="1.2"/>
<circle cx="97.40" cy="214.20" r="2.25" fill="none" stroke="#1f5c96" stroke-width="1.2"/>
<circle cx="101.10" cy="214.20" r="2.25" fill="none" stroke="#1f5c96" stroke-width="1.2"/>
<circle cx="104.70" cy="214.20" r="2.25" fill="none" stroke="#1f5c96" stroke-width="1.2"/>
<circle cx="97.00" cy="218.30" r="2.25" fill="none" stroke="#1f5c96" stroke-width="1.2"/>
<circle cx="99.70" cy="218.30" r="2.25" fill="none" stroke="#1f5c96" stroke-width="1.2"/>
<circle cx="95.00" cy="241.30" r="2.25" fill="none" stroke="#1f5c96" stroke-width="1.2"/>
<circle cx="102.30" cy="241.30" r="2.25" fill="none" stroke="#1f5c96" stroke-width="1.2"/>
<line x1="90.1" y1="200.3" x2="107.9" y2="200.3" stroke="#1f5c96" stroke-width="1.1"/>
<circle cx="186.80" cy="174.50" r="2.6" fill="#c8102e"/>
<circle cx="194.10" cy="178.10" r="2.6" fill="#c8102e"/>
<circle cx="184.70" cy="182.30" r="2.6" fill="#c8102e"/>
<circle cx="187.60" cy="181.90" r="2.6" fill="#c8102e"/>
<circle cx="195.10" cy="181.20" r="2.6" fill="#c8102e"/>
<circle cx="196.90" cy="183.00" r="2.6" fill="#c8102e"/>
<circle cx="186.50" cy="185.50" r="2.6" fill="#c8102e"/>
<circle cx="190.80" cy="185.90" r="2.6" fill="#c8102e"/>
<circle cx="195.50" cy="185.90" r="2.6" fill="#c8102e"/>
<circle cx="186.80" cy="188.70" r="2.6" fill="#c8102e"/>
<circle cx="191.20" cy="188.40" r="2.6" fill="#c8102e"/>
<circle cx="195.10" cy="188.40" r="2.6" fill="#c8102e"/>
<circle cx="186.50" cy="190.90" r="2.6" fill="#c8102e"/>
<circle cx="194.40" cy="191.30" r="2.6" fill="#c8102e"/>
<circle cx="192.60" cy="194.50" r="2.6" fill="#c8102e"/>
<circle cx="190.40" cy="206.50" r="2.6" fill="#c8102e"/>
<circle cx="190.40" cy="241.00" r="2.6" fill="#c8102e"/>
<line x1="181.4" y1="184.1" x2="199.79999999999998" y2="184.1" stroke="#c8102e" stroke-width="1.1"/>
<circle cx="216.80" cy="182.20" r="2.25" fill="none" stroke="#1f5c96" stroke-width="1.2"/>
<circle cx="211.60" cy="186.20" r="2.25" fill="none" stroke="#1f5c96" stroke-width="1.2"/>
<circle cx="222.40" cy="186.20" r="2.25" fill="none" stroke="#1f5c96" stroke-width="1.2"/>
<circle cx="214.40" cy="189.90" r="2.25" fill="none" stroke="#1f5c96" stroke-width="1.2"/>
<circle cx="219.60" cy="189.90" r="2.25" fill="none" stroke="#1f5c96" stroke-width="1.2"/>
<circle cx="210.90" cy="194.20" r="2.25" fill="none" stroke="#1f5c96" stroke-width="1.2"/>
<circle cx="217.00" cy="194.20" r="2.25" fill="none" stroke="#1f5c96" stroke-width="1.2"/>
<circle cx="222.60" cy="194.20" r="2.25" fill="none" stroke="#1f5c96" stroke-width="1.2"/>
<circle cx="217.00" cy="198.50" r="2.25" fill="none" stroke="#1f5c96" stroke-width="1.2"/>
<circle cx="213.50" cy="202.00" r="2.25" fill="none" stroke="#1f5c96" stroke-width="1.2"/>
<circle cx="220.90" cy="202.00" r="2.25" fill="none" stroke="#1f5c96" stroke-width="1.2"/>
<circle cx="214.80" cy="206.30" r="2.25" fill="none" stroke="#1f5c96" stroke-width="1.2"/>
<circle cx="219.20" cy="206.30" r="2.25" fill="none" stroke="#1f5c96" stroke-width="1.2"/>
<circle cx="213.10" cy="218.50" r="2.25" fill="none" stroke="#1f5c96" stroke-width="1.2"/>
<circle cx="220.60" cy="218.50" r="2.25" fill="none" stroke="#1f5c96" stroke-width="1.2"/>
<circle cx="216.90" cy="241.00" r="2.25" fill="none" stroke="#1f5c96" stroke-width="1.2"/>
<line x1="207.9" y1="192.0" x2="226.1" y2="192.0" stroke="#1f5c96" stroke-width="1.1"/>
<circle cx="302.80" cy="174.50" r="2.6" fill="#c8102e"/>
<circle cx="313.10" cy="174.50" r="2.6" fill="#c8102e"/>
<circle cx="307.90" cy="178.00" r="2.6" fill="#c8102e"/>
<circle cx="301.40" cy="182.20" r="2.6" fill="#c8102e"/>
<circle cx="307.50" cy="181.80" r="2.6" fill="#c8102e"/>
<circle cx="314.50" cy="182.20" r="2.6" fill="#c8102e"/>
<circle cx="302.50" cy="185.70" r="2.6" fill="#c8102e"/>
<circle cx="307.90" cy="185.50" r="2.6" fill="#c8102e"/>
<circle cx="313.30" cy="185.70" r="2.6" fill="#c8102e"/>
<circle cx="307.50" cy="188.40" r="2.6" fill="#c8102e"/>
<circle cx="302.90" cy="190.30" r="2.6" fill="#c8102e"/>
<circle cx="312.90" cy="190.30" r="2.6" fill="#c8102e"/>
<circle cx="307.90" cy="194.50" r="2.6" fill="#c8102e"/>
<circle cx="304.80" cy="184.00" r="2.6" fill="#c8102e"/>
<circle cx="311.00" cy="184.00" r="2.6" fill="#c8102e"/>
<circle cx="304.80" cy="188.00" r="2.6" fill="#c8102e"/>
<circle cx="311.00" cy="188.00" r="2.6" fill="#c8102e"/>
<circle cx="308.00" cy="190.50" r="2.6" fill="#c8102e"/>
<line x1="299.4" y1="183.5" x2="316.6" y2="183.5" stroke="#c8102e" stroke-width="1.1"/>
<circle cx="329.20" cy="182.40" r="2.25" fill="none" stroke="#1f5c96" stroke-width="1.2"/>
<circle cx="339.10" cy="182.40" r="2.25" fill="none" stroke="#1f5c96" stroke-width="1.2"/>
<circle cx="328.60" cy="187.10" r="2.25" fill="none" stroke="#1f5c96" stroke-width="1.2"/>
<circle cx="332.50" cy="187.10" r="2.25" fill="none" stroke="#1f5c96" stroke-width="1.2"/>
<circle cx="336.40" cy="187.10" r="2.25" fill="none" stroke="#1f5c96" stroke-width="1.2"/>
<circle cx="340.30" cy="187.10" r="2.25" fill="none" stroke="#1f5c96" stroke-width="1.2"/>
<circle cx="329.70" cy="190.40" r="2.25" fill="none" stroke="#1f5c96" stroke-width="1.2"/>
<circle cx="334.20" cy="190.40" r="2.25" fill="none" stroke="#1f5c96" stroke-width="1.2"/>
<circle cx="338.60" cy="190.40" r="2.25" fill="none" stroke="#1f5c96" stroke-width="1.2"/>
<circle cx="332.50" cy="194.30" r="2.25" fill="none" stroke="#1f5c96" stroke-width="1.2"/>
<circle cx="335.80" cy="194.30" r="2.25" fill="none" stroke="#1f5c96" stroke-width="1.2"/>
<circle cx="330.30" cy="198.70" r="2.25" fill="none" stroke="#1f5c96" stroke-width="1.2"/>
<circle cx="338.00" cy="202.30" r="2.25" fill="none" stroke="#1f5c96" stroke-width="1.2"/>
<circle cx="330.30" cy="218.00" r="2.25" fill="none" stroke="#1f5c96" stroke-width="1.2"/>
<circle cx="338.40" cy="218.00" r="2.25" fill="none" stroke="#1f5c96" stroke-width="1.2"/>
<circle cx="331.20" cy="189.00" r="2.25" fill="none" stroke="#1f5c96" stroke-width="1.2"/>
<circle cx="337.00" cy="189.00" r="2.25" fill="none" stroke="#1f5c96" stroke-width="1.2"/>
<circle cx="333.80" cy="191.80" r="2.25" fill="none" stroke="#1f5c96" stroke-width="1.2"/>
<line x1="325.3" y1="189.0" x2="343.09999999999997" y2="189.0" stroke="#1f5c96" stroke-width="1.1"/>
<text x="371.6" y="13.6" font-size="10.8" text-anchor="start" font-weight="bold" fill="#111" stroke="#111" stroke-width="0.3">E</text>
<line x1="424.0" y1="26.3" x2="424.0" y2="105.6" stroke="#231f20" stroke-width="1.2"/>
<line x1="421.0" y1="105.6" x2="424.0" y2="105.6" stroke="#231f20" stroke-width="1.0"/>
<line x1="421.8" y1="97.64277378128209" x2="424.0" y2="97.64277378128209" stroke="#231f20" stroke-width="0.9"/>
<line x1="421.8" y1="92.98809483357692" x2="424.0" y2="92.98809483357692" stroke="#231f20" stroke-width="0.9"/>
<line x1="421.8" y1="89.68554756256418" x2="424.0" y2="89.68554756256418" stroke="#231f20" stroke-width="0.9"/>
<line x1="421.8" y1="87.12389288538456" x2="424.0" y2="87.12389288538456" stroke="#231f20" stroke-width="0.9"/>
<line x1="421.8" y1="85.03086861485902" x2="424.0" y2="85.03086861485902" stroke="#231f20" stroke-width="0.9"/>
<line x1="421.8" y1="83.26124180895647" x2="424.0" y2="83.26124180895647" stroke="#231f20" stroke-width="0.9"/>
<line x1="421.8" y1="81.72832134384629" x2="424.0" y2="81.72832134384629" stroke="#231f20" stroke-width="0.9"/>
<line x1="421.8" y1="80.37618966715384" x2="424.0" y2="80.37618966715384" stroke="#231f20" stroke-width="0.9"/>
<line x1="421.0" y1="79.16666666666666" x2="424.0" y2="79.16666666666666" stroke="#231f20" stroke-width="1.0"/>
<line x1="421.8" y1="71.20944044794875" x2="424.0" y2="71.20944044794875" stroke="#231f20" stroke-width="0.9"/>
<line x1="421.8" y1="66.55476150024359" x2="424.0" y2="66.55476150024359" stroke="#231f20" stroke-width="0.9"/>
<line x1="421.8" y1="63.25221422923085" x2="424.0" y2="63.25221422923085" stroke="#231f20" stroke-width="0.9"/>
<line x1="421.8" y1="60.690559552051226" x2="424.0" y2="60.690559552051226" stroke="#231f20" stroke-width="0.9"/>
<line x1="421.8" y1="58.59753528152568" x2="424.0" y2="58.59753528152568" stroke="#231f20" stroke-width="0.9"/>
<line x1="421.8" y1="56.82790847562313" x2="424.0" y2="56.82790847562313" stroke="#231f20" stroke-width="0.9"/>
<line x1="421.8" y1="55.29498801051295" x2="424.0" y2="55.29498801051295" stroke="#231f20" stroke-width="0.9"/>
<line x1="421.8" y1="53.9428563338205" x2="424.0" y2="53.9428563338205" stroke="#231f20" stroke-width="0.9"/>
<line x1="421.0" y1="52.73333333333333" x2="424.0" y2="52.73333333333333" stroke="#231f20" stroke-width="1.0"/>
<line x1="421.8" y1="44.77610711461543" x2="424.0" y2="44.77610711461543" stroke="#231f20" stroke-width="0.9"/>
<line x1="421.8" y1="40.12142816691025" x2="424.0" y2="40.12142816691025" stroke="#231f20" stroke-width="0.9"/>
<line x1="421.8" y1="36.81888089589752" x2="424.0" y2="36.81888089589752" stroke="#231f20" stroke-width="0.9"/>
<line x1="421.8" y1="34.257226218717896" x2="424.0" y2="34.257226218717896" stroke="#231f20" stroke-width="0.9"/>
<line x1="421.8" y1="32.16420194819234" x2="424.0" y2="32.16420194819234" stroke="#231f20" stroke-width="0.9"/>
<line x1="421.8" y1="30.394575142289806" x2="424.0" y2="30.394575142289806" stroke="#231f20" stroke-width="0.9"/>
<line x1="421.8" y1="28.86165467717962" x2="424.0" y2="28.86165467717962" stroke="#231f20" stroke-width="0.9"/>
<line x1="421.8" y1="27.509523000487174" x2="424.0" y2="27.509523000487174" stroke="#231f20" stroke-width="0.9"/>
<line x1="421.0" y1="26.299999999999997" x2="424.0" y2="26.299999999999997" stroke="#231f20" stroke-width="1.0"/>
<text x="417.8" y="106.89999999999999" font-size="7.0" text-anchor="end" font-weight="normal" fill="#333333" textLength="10.31" lengthAdjust="spacingAndGlyphs" stroke="#333333" stroke-width="0.15">0.1</text>
<text x="417.8" y="80.46666666666665" font-size="7.0" text-anchor="end" font-weight="normal" fill="#333333" textLength="4.13" lengthAdjust="spacingAndGlyphs" stroke="#333333" stroke-width="0.15">1</text>
<text x="417.8" y="54.033333333333324" font-size="7.0" text-anchor="end" font-weight="normal" fill="#333333" textLength="8.25" lengthAdjust="spacingAndGlyphs" stroke="#333333" stroke-width="0.15">10</text>
<text x="417.8" y="27.599999999999998" font-size="7.0" text-anchor="end" font-weight="normal" fill="#333333" textLength="12.38" lengthAdjust="spacingAndGlyphs" stroke="#333333" stroke-width="0.15">100</text>
<line x1="424.0" y1="105.6" x2="504.0" y2="105.6" stroke="#231f20" stroke-width="1.2"/>
<line x1="424.4" y1="105.6" x2="424.4" y2="108.6" stroke="#231f20" stroke-width="1.0"/>
<line x1="430.3603939141468" y1="105.6" x2="430.3603939141468" y2="107.19999999999999" stroke="#231f20" stroke-width="0.7"/>
<line x1="433.8470008434493" y1="105.6" x2="433.8470008434493" y2="107.19999999999999" stroke="#231f20" stroke-width="0.7"/>
<line x1="436.32078782829365" y1="105.6" x2="436.32078782829365" y2="107.19999999999999" stroke="#231f20" stroke-width="0.7"/>
<line x1="438.23960608585315" y1="105.6" x2="438.23960608585315" y2="107.19999999999999" stroke="#231f20" stroke-width="0.7"/>
<line x1="439.8073947575961" y1="105.6" x2="439.8073947575961" y2="107.19999999999999" stroke="#231f20" stroke-width="0.7"/>
<line x1="441.13294119228226" y1="105.6" x2="441.13294119228226" y2="107.19999999999999" stroke="#231f20" stroke-width="0.7"/>
<line x1="442.2811817424405" y1="105.6" x2="442.2811817424405" y2="107.19999999999999" stroke="#231f20" stroke-width="0.7"/>
<line x1="443.2940016868986" y1="105.6" x2="443.2940016868986" y2="107.19999999999999" stroke="#231f20" stroke-width="0.7"/>
<line x1="444.2" y1="105.6" x2="444.2" y2="108.6" stroke="#231f20" stroke-width="1.0"/>
<line x1="450.1603939141468" y1="105.6" x2="450.1603939141468" y2="107.19999999999999" stroke="#231f20" stroke-width="0.7"/>
<line x1="453.6470008434493" y1="105.6" x2="453.6470008434493" y2="107.19999999999999" stroke="#231f20" stroke-width="0.7"/>
<line x1="456.12078782829366" y1="105.6" x2="456.12078782829366" y2="107.19999999999999" stroke="#231f20" stroke-width="0.7"/>
<line x1="458.03960608585317" y1="105.6" x2="458.03960608585317" y2="107.19999999999999" stroke="#231f20" stroke-width="0.7"/>
<line x1="459.6073947575961" y1="105.6" x2="459.6073947575961" y2="107.19999999999999" stroke="#231f20" stroke-width="0.7"/>
<line x1="460.93294119228227" y1="105.6" x2="460.93294119228227" y2="107.19999999999999" stroke="#231f20" stroke-width="0.7"/>
<line x1="462.0811817424405" y1="105.6" x2="462.0811817424405" y2="107.19999999999999" stroke="#231f20" stroke-width="0.7"/>
<line x1="463.09400168689865" y1="105.6" x2="463.09400168689865" y2="107.19999999999999" stroke="#231f20" stroke-width="0.7"/>
<line x1="464.0" y1="105.6" x2="464.0" y2="108.6" stroke="#231f20" stroke-width="1.0"/>
<line x1="469.96039391414683" y1="105.6" x2="469.96039391414683" y2="107.19999999999999" stroke="#231f20" stroke-width="0.7"/>
<line x1="473.4470008434493" y1="105.6" x2="473.4470008434493" y2="107.19999999999999" stroke="#231f20" stroke-width="0.7"/>
<line x1="475.92078782829367" y1="105.6" x2="475.92078782829367" y2="107.19999999999999" stroke="#231f20" stroke-width="0.7"/>
<line x1="477.8396060858532" y1="105.6" x2="477.8396060858532" y2="107.19999999999999" stroke="#231f20" stroke-width="0.7"/>
<line x1="479.40739475759614" y1="105.6" x2="479.40739475759614" y2="107.19999999999999" stroke="#231f20" stroke-width="0.7"/>
<line x1="480.7329411922823" y1="105.6" x2="480.7329411922823" y2="107.19999999999999" stroke="#231f20" stroke-width="0.7"/>
<line x1="481.8811817424405" y1="105.6" x2="481.8811817424405" y2="107.19999999999999" stroke="#231f20" stroke-width="0.7"/>
<line x1="482.8940016868986" y1="105.6" x2="482.8940016868986" y2="107.19999999999999" stroke="#231f20" stroke-width="0.7"/>
<line x1="483.79999999999995" y1="105.6" x2="483.79999999999995" y2="108.6" stroke="#231f20" stroke-width="1.0"/>
<line x1="489.7603939141468" y1="105.6" x2="489.7603939141468" y2="107.19999999999999" stroke="#231f20" stroke-width="0.7"/>
<line x1="493.24700084344926" y1="105.6" x2="493.24700084344926" y2="107.19999999999999" stroke="#231f20" stroke-width="0.7"/>
<line x1="495.7207878282936" y1="105.6" x2="495.7207878282936" y2="107.19999999999999" stroke="#231f20" stroke-width="0.7"/>
<line x1="497.63960608585313" y1="105.6" x2="497.63960608585313" y2="107.19999999999999" stroke="#231f20" stroke-width="0.7"/>
<line x1="499.2073947575961" y1="105.6" x2="499.2073947575961" y2="107.19999999999999" stroke="#231f20" stroke-width="0.7"/>
<line x1="500.53294119228224" y1="105.6" x2="500.53294119228224" y2="107.19999999999999" stroke="#231f20" stroke-width="0.7"/>
<line x1="501.68118174244046" y1="105.6" x2="501.68118174244046" y2="107.19999999999999" stroke="#231f20" stroke-width="0.7"/>
<line x1="502.69400168689856" y1="105.6" x2="502.69400168689856" y2="107.19999999999999" stroke="#231f20" stroke-width="0.7"/>
<line x1="504.0" y1="105.6" x2="504.0" y2="108.6" stroke="#231f20" stroke-width="1.0"/>
<text x="424.8" y="117.89999999999999" font-size="7.0" text-anchor="middle" font-weight="normal" fill="#333333" textLength="10.12" lengthAdjust="spacingAndGlyphs" stroke="#333333" stroke-width="0.15">0.1</text>
<text x="444.6" y="117.89999999999999" font-size="7.0" text-anchor="middle" font-weight="normal" fill="#333333" textLength="4.05" lengthAdjust="spacingAndGlyphs" stroke="#333333" stroke-width="0.15">1</text>
<text x="464.40000000000003" y="117.89999999999999" font-size="7.0" text-anchor="middle" font-weight="normal" fill="#333333" textLength="8.1" lengthAdjust="spacingAndGlyphs" stroke="#333333" stroke-width="0.15">10</text>
<text x="484.20000000000005" y="117.89999999999999" font-size="7.0" text-anchor="middle" font-weight="normal" fill="#333333" textLength="12.15" lengthAdjust="spacingAndGlyphs" stroke="#333333" stroke-width="0.15">100</text>
<text x="504.0" y="117.89999999999999" font-size="7.0" text-anchor="middle" font-weight="normal" fill="#333333" textLength="16.19" lengthAdjust="spacingAndGlyphs" stroke="#333333" stroke-width="0.15">1000</text>
<text x="432.7" y="128.79999999999998" font-size="8.5" text-anchor="start" font-weight="normal" fill="#1a1a1a" textLength="41.0" lengthAdjust="spacingAndGlyphs" stroke="#1a1a1a" stroke-width="0.22">FVIII inhibitors</text>
<text x="476.4" y="128.79999999999998" font-size="8.5" text-anchor="start" font-weight="normal" fill="#1a1a1a" textLength="19.6" lengthAdjust="spacingAndGlyphs" stroke="#1a1a1a" stroke-width="0.22">(log10)</text>
<text transform="translate(395.3,100.3) rotate(-90)" x="0" y="0" font-size="8.6" text-anchor="start" font-weight="normal" fill="#1a1a1a" textLength="39.9" lengthAdjust="spacingAndGlyphs" stroke="#1a1a1a" stroke-width="0.22">Anti-FVIII IgG1</text>
<text transform="translate(395.3,57.4) rotate(-90)" x="0" y="0" font-size="8.6" text-anchor="start" font-weight="normal" fill="#1a1a1a" textLength="20.4" lengthAdjust="spacingAndGlyphs" stroke="#1a1a1a" stroke-width="0.22">(log10)</text>
<text x="430.0" y="91.0" font-size="7.2" text-anchor="start" font-weight="normal" fill="#333333" textLength="26.6" lengthAdjust="spacingAndGlyphs" stroke="#333333" stroke-width="0.15">r = 0.71</text>
<path d="M458.60,86.25L458.60,88.15M457.78,86.73L459.42,87.67M459.42,86.73L457.78,87.67" stroke="#444" stroke-width="0.7" stroke-linecap="round"/>
<circle cx="458.6" cy="87.2" r="0.46" fill="#444"/>
<path d="M461.60,86.25L461.60,88.15M460.78,86.73L462.42,87.67M462.42,86.73L460.78,87.67" stroke="#444" stroke-width="0.7" stroke-linecap="round"/>
<circle cx="461.6" cy="87.2" r="0.46" fill="#444"/>
<path d="M464.60,86.25L464.60,88.15M463.78,86.73L465.42,87.67M465.42,86.73L463.78,87.67" stroke="#444" stroke-width="0.7" stroke-linecap="round"/>
<circle cx="464.6" cy="87.2" r="0.46" fill="#444"/>
<text x="430.2" y="99.3" font-size="7.2" text-anchor="start" font-weight="normal" fill="#333333" textLength="50.0" lengthAdjust="spacingAndGlyphs" stroke="#333333" stroke-width="0.15">0.3567-0.8886</text>
<circle cx="482.20" cy="29.50" r="2.6" fill="#c8102e"/>
<circle cx="486.80" cy="29.90" r="2.6" fill="#c8102e"/>
<circle cx="476.80" cy="36.80" r="2.6" fill="#c8102e"/>
<circle cx="482.20" cy="36.20" r="2.6" fill="#c8102e"/>
<circle cx="479.50" cy="38.90" r="2.6" fill="#c8102e"/>
<circle cx="477.30" cy="41.10" r="2.6" fill="#c8102e"/>
<circle cx="481.10" cy="41.10" r="2.6" fill="#c8102e"/>
<circle cx="478.90" cy="43.20" r="2.6" fill="#c8102e"/>
<circle cx="480.50" cy="46.00" r="2.6" fill="#c8102e"/>
<circle cx="477.80" cy="47.00" r="2.6" fill="#c8102e"/>
<circle cx="473.00" cy="49.20" r="2.6" fill="#c8102e"/>
<circle cx="480.00" cy="50.30" r="2.6" fill="#c8102e"/>
<circle cx="474.60" cy="53.50" r="2.6" fill="#c8102e"/>
<circle cx="472.40" cy="57.80" r="2.6" fill="#c8102e"/>
<line x1="424.0" y1="154.1" x2="424.0" y2="233.3" stroke="#231f20" stroke-width="1.2"/>
<line x1="421.0" y1="233.3" x2="424.0" y2="233.3" stroke="#231f20" stroke-width="1.0"/>
<line x1="421.8" y1="225.35280811447092" x2="424.0" y2="225.35280811447092" stroke="#231f20" stroke-width="0.9"/>
<line x1="421.8" y1="220.7039988754009" x2="424.0" y2="220.7039988754009" stroke="#231f20" stroke-width="0.9"/>
<line x1="421.8" y1="217.4056162289418" x2="424.0" y2="217.4056162289418" stroke="#231f20" stroke-width="0.9"/>
<line x1="421.8" y1="214.8471918855291" x2="424.0" y2="214.8471918855291" stroke="#231f20" stroke-width="0.9"/>
<line x1="421.8" y1="212.75680698987182" x2="424.0" y2="212.75680698987182" stroke="#231f20" stroke-width="0.9"/>
<line x1="421.8" y1="210.98941174362363" x2="424.0" y2="210.98941174362363" stroke="#231f20" stroke-width="0.9"/>
<line x1="421.8" y1="209.4584243434127" x2="424.0" y2="209.4584243434127" stroke="#231f20" stroke-width="0.9"/>
<line x1="421.8" y1="208.10799775080181" x2="424.0" y2="208.10799775080181" stroke="#231f20" stroke-width="0.9"/>
<line x1="421.0" y1="206.9" x2="424.0" y2="206.9" stroke="#231f20" stroke-width="1.0"/>
<line x1="421.8" y1="198.9528081144709" x2="424.0" y2="198.9528081144709" stroke="#231f20" stroke-width="0.9"/>
<line x1="421.8" y1="194.3039988754009" x2="424.0" y2="194.3039988754009" stroke="#231f20" stroke-width="0.9"/>
<line x1="421.8" y1="191.0056162289418" x2="424.0" y2="191.0056162289418" stroke="#231f20" stroke-width="0.9"/>
<line x1="421.8" y1="188.4471918855291" x2="424.0" y2="188.4471918855291" stroke="#231f20" stroke-width="0.9"/>
<line x1="421.8" y1="186.3568069898718" x2="424.0" y2="186.3568069898718" stroke="#231f20" stroke-width="0.9"/>
<line x1="421.8" y1="184.58941174362363" x2="424.0" y2="184.58941174362363" stroke="#231f20" stroke-width="0.9"/>
<line x1="421.8" y1="183.0584243434127" x2="424.0" y2="183.0584243434127" stroke="#231f20" stroke-width="0.9"/>
<line x1="421.8" y1="181.70799775080184" x2="424.0" y2="181.70799775080184" stroke="#231f20" stroke-width="0.9"/>
<line x1="421.0" y1="180.5" x2="424.0" y2="180.5" stroke="#231f20" stroke-width="1.0"/>
<line x1="421.8" y1="172.5528081144709" x2="424.0" y2="172.5528081144709" stroke="#231f20" stroke-width="0.9"/>
<line x1="421.8" y1="167.9039988754009" x2="424.0" y2="167.9039988754009" stroke="#231f20" stroke-width="0.9"/>
<line x1="421.8" y1="164.60561622894178" x2="424.0" y2="164.60561622894178" stroke="#231f20" stroke-width="0.9"/>
<line x1="421.8" y1="162.0471918855291" x2="424.0" y2="162.0471918855291" stroke="#231f20" stroke-width="0.9"/>
<line x1="421.8" y1="159.9568069898718" x2="424.0" y2="159.9568069898718" stroke="#231f20" stroke-width="0.9"/>
<line x1="421.8" y1="158.18941174362362" x2="424.0" y2="158.18941174362362" stroke="#231f20" stroke-width="0.9"/>
<line x1="421.8" y1="156.6584243434127" x2="424.0" y2="156.6584243434127" stroke="#231f20" stroke-width="0.9"/>
<line x1="421.8" y1="155.3079977508018" x2="424.0" y2="155.3079977508018" stroke="#231f20" stroke-width="0.9"/>
<line x1="421.0" y1="154.1" x2="424.0" y2="154.1" stroke="#231f20" stroke-width="1.0"/>
<text x="417.8" y="234.60000000000002" font-size="7.0" text-anchor="end" font-weight="normal" fill="#333333" textLength="10.31" lengthAdjust="spacingAndGlyphs" stroke="#333333" stroke-width="0.15">0.1</text>
<text x="417.8" y="208.20000000000002" font-size="7.0" text-anchor="end" font-weight="normal" fill="#333333" textLength="4.13" lengthAdjust="spacingAndGlyphs" stroke="#333333" stroke-width="0.15">1</text>
<text x="417.8" y="181.8" font-size="7.0" text-anchor="end" font-weight="normal" fill="#333333" textLength="8.25" lengthAdjust="spacingAndGlyphs" stroke="#333333" stroke-width="0.15">10</text>
<text x="417.8" y="155.4" font-size="7.0" text-anchor="end" font-weight="normal" fill="#333333" textLength="12.38" lengthAdjust="spacingAndGlyphs" stroke="#333333" stroke-width="0.15">100</text>
<line x1="424.0" y1="233.3" x2="504.0" y2="233.3" stroke="#231f20" stroke-width="1.2"/>
<line x1="424.4" y1="233.3" x2="424.4" y2="236.3" stroke="#231f20" stroke-width="1.0"/>
<line x1="430.3603939141468" y1="233.3" x2="430.3603939141468" y2="234.9" stroke="#231f20" stroke-width="0.7"/>
<line x1="433.8470008434493" y1="233.3" x2="433.8470008434493" y2="234.9" stroke="#231f20" stroke-width="0.7"/>
<line x1="436.32078782829365" y1="233.3" x2="436.32078782829365" y2="234.9" stroke="#231f20" stroke-width="0.7"/>
<line x1="438.23960608585315" y1="233.3" x2="438.23960608585315" y2="234.9" stroke="#231f20" stroke-width="0.7"/>
<line x1="439.8073947575961" y1="233.3" x2="439.8073947575961" y2="234.9" stroke="#231f20" stroke-width="0.7"/>
<line x1="441.13294119228226" y1="233.3" x2="441.13294119228226" y2="234.9" stroke="#231f20" stroke-width="0.7"/>
<line x1="442.2811817424405" y1="233.3" x2="442.2811817424405" y2="234.9" stroke="#231f20" stroke-width="0.7"/>
<line x1="443.2940016868986" y1="233.3" x2="443.2940016868986" y2="234.9" stroke="#231f20" stroke-width="0.7"/>
<line x1="444.2" y1="233.3" x2="444.2" y2="236.3" stroke="#231f20" stroke-width="1.0"/>
<line x1="450.1603939141468" y1="233.3" x2="450.1603939141468" y2="234.9" stroke="#231f20" stroke-width="0.7"/>
<line x1="453.6470008434493" y1="233.3" x2="453.6470008434493" y2="234.9" stroke="#231f20" stroke-width="0.7"/>
<line x1="456.12078782829366" y1="233.3" x2="456.12078782829366" y2="234.9" stroke="#231f20" stroke-width="0.7"/>
<line x1="458.03960608585317" y1="233.3" x2="458.03960608585317" y2="234.9" stroke="#231f20" stroke-width="0.7"/>
<line x1="459.6073947575961" y1="233.3" x2="459.6073947575961" y2="234.9" stroke="#231f20" stroke-width="0.7"/>
<line x1="460.93294119228227" y1="233.3" x2="460.93294119228227" y2="234.9" stroke="#231f20" stroke-width="0.7"/>
<line x1="462.0811817424405" y1="233.3" x2="462.0811817424405" y2="234.9" stroke="#231f20" stroke-width="0.7"/>
<line x1="463.09400168689865" y1="233.3" x2="463.09400168689865" y2="234.9" stroke="#231f20" stroke-width="0.7"/>
<line x1="464.0" y1="233.3" x2="464.0" y2="236.3" stroke="#231f20" stroke-width="1.0"/>
<line x1="469.96039391414683" y1="233.3" x2="469.96039391414683" y2="234.9" stroke="#231f20" stroke-width="0.7"/>
<line x1="473.4470008434493" y1="233.3" x2="473.4470008434493" y2="234.9" stroke="#231f20" stroke-width="0.7"/>
<line x1="475.92078782829367" y1="233.3" x2="475.92078782829367" y2="234.9" stroke="#231f20" stroke-width="0.7"/>
<line x1="477.8396060858532" y1="233.3" x2="477.8396060858532" y2="234.9" stroke="#231f20" stroke-width="0.7"/>
<line x1="479.40739475759614" y1="233.3" x2="479.40739475759614" y2="234.9" stroke="#231f20" stroke-width="0.7"/>
<line x1="480.7329411922823" y1="233.3" x2="480.7329411922823" y2="234.9" stroke="#231f20" stroke-width="0.7"/>
<line x1="481.8811817424405" y1="233.3" x2="481.8811817424405" y2="234.9" stroke="#231f20" stroke-width="0.7"/>
<line x1="482.8940016868986" y1="233.3" x2="482.8940016868986" y2="234.9" stroke="#231f20" stroke-width="0.7"/>
<line x1="483.79999999999995" y1="233.3" x2="483.79999999999995" y2="236.3" stroke="#231f20" stroke-width="1.0"/>
<line x1="489.7603939141468" y1="233.3" x2="489.7603939141468" y2="234.9" stroke="#231f20" stroke-width="0.7"/>
<line x1="493.24700084344926" y1="233.3" x2="493.24700084344926" y2="234.9" stroke="#231f20" stroke-width="0.7"/>
<line x1="495.7207878282936" y1="233.3" x2="495.7207878282936" y2="234.9" stroke="#231f20" stroke-width="0.7"/>
<line x1="497.63960608585313" y1="233.3" x2="497.63960608585313" y2="234.9" stroke="#231f20" stroke-width="0.7"/>
<line x1="499.2073947575961" y1="233.3" x2="499.2073947575961" y2="234.9" stroke="#231f20" stroke-width="0.7"/>
<line x1="500.53294119228224" y1="233.3" x2="500.53294119228224" y2="234.9" stroke="#231f20" stroke-width="0.7"/>
<line x1="501.68118174244046" y1="233.3" x2="501.68118174244046" y2="234.9" stroke="#231f20" stroke-width="0.7"/>
<line x1="502.69400168689856" y1="233.3" x2="502.69400168689856" y2="234.9" stroke="#231f20" stroke-width="0.7"/>
<line x1="504.0" y1="233.3" x2="504.0" y2="236.3" stroke="#231f20" stroke-width="1.0"/>
<text x="424.8" y="245.60000000000002" font-size="7.0" text-anchor="middle" font-weight="normal" fill="#333333" textLength="10.12" lengthAdjust="spacingAndGlyphs" stroke="#333333" stroke-width="0.15">0.1</text>
<text x="444.6" y="245.60000000000002" font-size="7.0" text-anchor="middle" font-weight="normal" fill="#333333" textLength="4.05" lengthAdjust="spacingAndGlyphs" stroke="#333333" stroke-width="0.15">1</text>
<text x="464.40000000000003" y="245.60000000000002" font-size="7.0" text-anchor="middle" font-weight="normal" fill="#333333" textLength="8.1" lengthAdjust="spacingAndGlyphs" stroke="#333333" stroke-width="0.15">10</text>
<text x="484.20000000000005" y="245.60000000000002" font-size="7.0" text-anchor="middle" font-weight="normal" fill="#333333" textLength="12.15" lengthAdjust="spacingAndGlyphs" stroke="#333333" stroke-width="0.15">100</text>
<text x="504.0" y="245.60000000000002" font-size="7.0" text-anchor="middle" font-weight="normal" fill="#333333" textLength="16.19" lengthAdjust="spacingAndGlyphs" stroke="#333333" stroke-width="0.15">1000</text>
<text x="432.7" y="256.5" font-size="8.5" text-anchor="start" font-weight="normal" fill="#1a1a1a" textLength="41.0" lengthAdjust="spacingAndGlyphs" stroke="#1a1a1a" stroke-width="0.22">FVIII inhibitors</text>
<text x="476.4" y="256.5" font-size="8.5" text-anchor="start" font-weight="normal" fill="#1a1a1a" textLength="19.6" lengthAdjust="spacingAndGlyphs" stroke="#1a1a1a" stroke-width="0.22">(log10)</text>
<text transform="translate(402.6,225.0) rotate(-90)" x="0" y="0" font-size="8.6" text-anchor="start" font-weight="normal" fill="#1a1a1a" textLength="40.1" lengthAdjust="spacingAndGlyphs" stroke="#1a1a1a" stroke-width="0.22">Anti-FVIII IgG1</text>
<text transform="translate(402.6,181.9) rotate(-90)" x="0" y="0" font-size="8.6" text-anchor="start" font-weight="normal" fill="#1a1a1a" textLength="20.4" lengthAdjust="spacingAndGlyphs" stroke="#1a1a1a" stroke-width="0.22">(log10)</text>
<text x="428.9" y="219.7" font-size="7.2" text-anchor="start" font-weight="normal" fill="#333333" textLength="26.9" lengthAdjust="spacingAndGlyphs" stroke="#333333" stroke-width="0.15">r = 0.83</text>
<path d="M458.70,214.95L458.70,216.85M457.88,215.43L459.52,216.38M459.52,215.43L457.88,216.38" stroke="#444" stroke-width="0.7" stroke-linecap="round"/>
<circle cx="458.7" cy="215.9" r="0.46" fill="#444"/>
<path d="M461.40,214.95L461.40,216.85M460.58,215.43L462.22,216.38M462.22,215.43L460.58,216.38" stroke="#444" stroke-width="0.7" stroke-linecap="round"/>
<circle cx="461.4" cy="215.9" r="0.46" fill="#444"/>
<path d="M464.10,214.95L464.10,216.85M463.28,215.43L464.92,216.38M464.92,215.43L463.28,216.38" stroke="#444" stroke-width="0.7" stroke-linecap="round"/>
<circle cx="464.1" cy="215.9" r="0.46" fill="#444"/>
<path d="M466.80,214.95L466.80,216.85M465.98,215.43L467.62,216.38M467.62,215.43L465.98,216.38" stroke="#444" stroke-width="0.7" stroke-linecap="round"/>
<circle cx="466.8" cy="215.9" r="0.46" fill="#444"/>
<text x="428.9" y="228.9" font-size="7.2" text-anchor="start" font-weight="normal" fill="#333333" textLength="50.7" lengthAdjust="spacingAndGlyphs" stroke="#333333" stroke-width="0.15">0.5723-0.9390</text>
<circle cx="484.80" cy="159.70" r="2.25" fill="none" stroke="#1f5c96" stroke-width="1.2"/>
<circle cx="477.00" cy="170.00" r="2.25" fill="none" stroke="#1f5c96" stroke-width="1.2"/>
<circle cx="475.60" cy="175.80" r="2.25" fill="none" stroke="#1f5c96" stroke-width="1.2"/>
<circle cx="477.50" cy="174.20" r="2.25" fill="none" stroke="#1f5c96" stroke-width="1.2"/>
<circle cx="481.40" cy="175.30" r="2.25" fill="none" stroke="#1f5c96" stroke-width="1.2"/>
<circle cx="481.40" cy="180.80" r="2.25" fill="none" stroke="#1f5c96" stroke-width="1.2"/>
<circle cx="473.60" cy="183.10" r="2.25" fill="none" stroke="#1f5c96" stroke-width="1.2"/>
<circle cx="457.20" cy="179.40" r="2.25" fill="none" stroke="#1f5c96" stroke-width="1.2"/>
<circle cx="461.40" cy="176.60" r="2.25" fill="none" stroke="#1f5c96" stroke-width="1.2"/>
<circle cx="464.50" cy="178.90" r="2.25" fill="none" stroke="#1f5c96" stroke-width="1.2"/>
<circle cx="466.90" cy="180.90" r="2.25" fill="none" stroke="#1f5c96" stroke-width="1.2"/>
<circle cx="451.30" cy="195.30" r="2.25" fill="none" stroke="#1f5c96" stroke-width="1.2"/>
<circle cx="452.50" cy="202.80" r="2.25" fill="none" stroke="#1f5c96" stroke-width="1.2"/>
<circle cx="459.20" cy="201.60" r="2.25" fill="none" stroke="#1f5c96" stroke-width="1.2"/>
<circle cx="451.70" cy="209.00" r="2.25" fill="none" stroke="#1f5c96" stroke-width="1.2"/>
<text x="6.5" y="270.3" font-size="10.4" text-anchor="start" font-weight="bold" fill="#111" stroke="#111" stroke-width="0.3">C</text>
<line x1="40.2" y1="289.6" x2="40.2" y2="366.8" stroke="#231f20" stroke-width="1.2"/>
<line x1="37.2" y1="366.8" x2="40.2" y2="366.8" stroke="#231f20" stroke-width="1.0"/>
<line x1="38.0" y1="364.2266666666667" x2="40.2" y2="364.2266666666667" stroke="#231f20" stroke-width="0.95"/>
<line x1="38.0" y1="361.65333333333336" x2="40.2" y2="361.65333333333336" stroke="#231f20" stroke-width="0.95"/>
<line x1="38.0" y1="359.08000000000004" x2="40.2" y2="359.08000000000004" stroke="#231f20" stroke-width="0.95"/>
<line x1="38.0" y1="356.50666666666666" x2="40.2" y2="356.50666666666666" stroke="#231f20" stroke-width="0.95"/>
<line x1="38.0" y1="353.93333333333334" x2="40.2" y2="353.93333333333334" stroke="#231f20" stroke-width="0.95"/>
<line x1="38.0" y1="351.36" x2="40.2" y2="351.36" stroke="#231f20" stroke-width="0.95"/>
<line x1="38.0" y1="348.7866666666667" x2="40.2" y2="348.7866666666667" stroke="#231f20" stroke-width="0.95"/>
<line x1="38.0" y1="346.21333333333337" x2="40.2" y2="346.21333333333337" stroke="#231f20" stroke-width="0.95"/>
<line x1="38.0" y1="343.64" x2="40.2" y2="343.64" stroke="#231f20" stroke-width="0.95"/>
<line x1="37.2" y1="341.06666666666666" x2="40.2" y2="341.06666666666666" stroke="#231f20" stroke-width="1.0"/>
<line x1="38.0" y1="338.49333333333334" x2="40.2" y2="338.49333333333334" stroke="#231f20" stroke-width="0.95"/>
<line x1="38.0" y1="335.92" x2="40.2" y2="335.92" stroke="#231f20" stroke-width="0.95"/>
<line x1="38.0" y1="333.3466666666667" x2="40.2" y2="333.3466666666667" stroke="#231f20" stroke-width="0.95"/>
<line x1="38.0" y1="330.77333333333337" x2="40.2" y2="330.77333333333337" stroke="#231f20" stroke-width="0.95"/>
<line x1="38.0" y1="328.20000000000005" x2="40.2" y2="328.20000000000005" stroke="#231f20" stroke-width="0.95"/>
<line x1="38.0" y1="325.62666666666667" x2="40.2" y2="325.62666666666667" stroke="#231f20" stroke-width="0.95"/>
<line x1="38.0" y1="323.05333333333334" x2="40.2" y2="323.05333333333334" stroke="#231f20" stroke-width="0.95"/>
<line x1="38.0" y1="320.48" x2="40.2" y2="320.48" stroke="#231f20" stroke-width="0.95"/>
<line x1="38.0" y1="317.9066666666667" x2="40.2" y2="317.9066666666667" stroke="#231f20" stroke-width="0.95"/>
<line x1="37.2" y1="315.33333333333337" x2="40.2" y2="315.33333333333337" stroke="#231f20" stroke-width="1.0"/>
<line x1="38.0" y1="312.76" x2="40.2" y2="312.76" stroke="#231f20" stroke-width="0.95"/>
<line x1="38.0" y1="310.18666666666667" x2="40.2" y2="310.18666666666667" stroke="#231f20" stroke-width="0.95"/>
<line x1="38.0" y1="307.61333333333334" x2="40.2" y2="307.61333333333334" stroke="#231f20" stroke-width="0.95"/>
<line x1="38.0" y1="305.04" x2="40.2" y2="305.04" stroke="#231f20" stroke-width="0.95"/>
<line x1="38.0" y1="302.4666666666667" x2="40.2" y2="302.4666666666667" stroke="#231f20" stroke-width="0.95"/>
<line x1="38.0" y1="299.8933333333334" x2="40.2" y2="299.8933333333334" stroke="#231f20" stroke-width="0.95"/>
<line x1="38.0" y1="297.32000000000005" x2="40.2" y2="297.32000000000005" stroke="#231f20" stroke-width="0.95"/>
<line x1="38.0" y1="294.74666666666667" x2="40.2" y2="294.74666666666667" stroke="#231f20" stroke-width="0.95"/>
<line x1="38.0" y1="292.17333333333335" x2="40.2" y2="292.17333333333335" stroke="#231f20" stroke-width="0.95"/>
<line x1="37.2" y1="289.6" x2="40.2" y2="289.6" stroke="#231f20" stroke-width="1.0"/>
<text x="34.2" y="369.35" font-size="7.0" text-anchor="end" font-weight="normal" fill="#333333" textLength="4.4" lengthAdjust="spacingAndGlyphs" stroke="#333333" stroke-width="0.15">0</text>
<text x="34.2" y="343.6166666666667" font-size="7.0" text-anchor="end" font-weight="normal" fill="#333333" textLength="8.8" lengthAdjust="spacingAndGlyphs" stroke="#333333" stroke-width="0.15">50</text>
<text x="34.2" y="317.8833333333334" font-size="7.0" text-anchor="end" font-weight="normal" fill="#333333" textLength="13.2" lengthAdjust="spacingAndGlyphs" stroke="#333333" stroke-width="0.15">100</text>
<text x="34.2" y="292.15000000000003" font-size="7.0" text-anchor="end" font-weight="normal" fill="#333333" textLength="13.2" lengthAdjust="spacingAndGlyphs" stroke="#333333" stroke-width="0.15">150</text>
<line x1="40.2" y1="366.8" x2="93.0" y2="366.8" stroke="#3a3a3a" stroke-width="1.3"/>
<line x1="54.6" y1="366.8" x2="54.6" y2="368.8" stroke="#231f20" stroke-width="0.8"/>
<line x1="77.1" y1="366.8" x2="77.1" y2="368.8" stroke="#231f20" stroke-width="0.8"/>
<line x1="126.2" y1="289.4" x2="126.2" y2="367.0" stroke="#231f20" stroke-width="1.2"/>
<line x1="123.2" y1="367.0" x2="126.2" y2="367.0" stroke="#231f20" stroke-width="1.0"/>
<line x1="124.0" y1="364.41333333333336" x2="126.2" y2="364.41333333333336" stroke="#231f20" stroke-width="0.95"/>
<line x1="124.0" y1="361.82666666666665" x2="126.2" y2="361.82666666666665" stroke="#231f20" stroke-width="0.95"/>
<line x1="124.0" y1="359.24" x2="126.2" y2="359.24" stroke="#231f20" stroke-width="0.95"/>
<line x1="124.0" y1="356.6533333333333" x2="126.2" y2="356.6533333333333" stroke="#231f20" stroke-width="0.95"/>
<line x1="124.0" y1="354.06666666666666" x2="126.2" y2="354.06666666666666" stroke="#231f20" stroke-width="0.95"/>
<line x1="124.0" y1="351.48" x2="126.2" y2="351.48" stroke="#231f20" stroke-width="0.95"/>
<line x1="124.0" y1="348.8933333333333" x2="126.2" y2="348.8933333333333" stroke="#231f20" stroke-width="0.95"/>
<line x1="124.0" y1="346.3066666666667" x2="126.2" y2="346.3066666666667" stroke="#231f20" stroke-width="0.95"/>
<line x1="124.0" y1="343.71999999999997" x2="126.2" y2="343.71999999999997" stroke="#231f20" stroke-width="0.95"/>
<line x1="123.2" y1="341.1333333333333" x2="126.2" y2="341.1333333333333" stroke="#231f20" stroke-width="1.0"/>
<line x1="124.0" y1="338.5466666666667" x2="126.2" y2="338.5466666666667" stroke="#231f20" stroke-width="0.95"/>
<line x1="124.0" y1="335.96" x2="126.2" y2="335.96" stroke="#231f20" stroke-width="0.95"/>
<line x1="124.0" y1="333.37333333333333" x2="126.2" y2="333.37333333333333" stroke="#231f20" stroke-width="0.95"/>
<line x1="124.0" y1="330.78666666666663" x2="126.2" y2="330.78666666666663" stroke="#231f20" stroke-width="0.95"/>
<line x1="124.0" y1="328.2" x2="126.2" y2="328.2" stroke="#231f20" stroke-width="0.95"/>
<line x1="124.0" y1="325.61333333333334" x2="126.2" y2="325.61333333333334" stroke="#231f20" stroke-width="0.95"/>
<line x1="124.0" y1="323.02666666666664" x2="126.2" y2="323.02666666666664" stroke="#231f20" stroke-width="0.95"/>
<line x1="124.0" y1="320.44" x2="126.2" y2="320.44" stroke="#231f20" stroke-width="0.95"/>
<line x1="124.0" y1="317.85333333333335" x2="126.2" y2="317.85333333333335" stroke="#231f20" stroke-width="0.95"/>
<line x1="123.2" y1="315.26666666666665" x2="126.2" y2="315.26666666666665" stroke="#231f20" stroke-width="1.0"/>
<line x1="124.0" y1="312.67999999999995" x2="126.2" y2="312.67999999999995" stroke="#231f20" stroke-width="0.95"/>
<line x1="124.0" y1="310.0933333333333" x2="126.2" y2="310.0933333333333" stroke="#231f20" stroke-width="0.95"/>
<line x1="124.0" y1="307.50666666666666" x2="126.2" y2="307.50666666666666" stroke="#231f20" stroke-width="0.95"/>
<line x1="124.0" y1="304.91999999999996" x2="126.2" y2="304.91999999999996" stroke="#231f20" stroke-width="0.95"/>
<line x1="124.0" y1="302.3333333333333" x2="126.2" y2="302.3333333333333" stroke="#231f20" stroke-width="0.95"/>
<line x1="124.0" y1="299.74666666666667" x2="126.2" y2="299.74666666666667" stroke="#231f20" stroke-width="0.95"/>
<line x1="124.0" y1="297.15999999999997" x2="126.2" y2="297.15999999999997" stroke="#231f20" stroke-width="0.95"/>
<line x1="124.0" y1="294.5733333333333" x2="126.2" y2="294.5733333333333" stroke="#231f20" stroke-width="0.95"/>
<line x1="124.0" y1="291.9866666666666" x2="126.2" y2="291.9866666666666" stroke="#231f20" stroke-width="0.95"/>
<line x1="123.2" y1="289.4" x2="126.2" y2="289.4" stroke="#231f20" stroke-width="1.0"/>
<text x="120.4" y="369.55" font-size="7.0" text-anchor="end" font-weight="normal" fill="#333333" textLength="4.4" lengthAdjust="spacingAndGlyphs" stroke="#333333" stroke-width="0.15">0</text>
<text x="120.4" y="343.68333333333334" font-size="7.0" text-anchor="end" font-weight="normal" fill="#333333" textLength="8.8" lengthAdjust="spacingAndGlyphs" stroke="#333333" stroke-width="0.15">50</text>
<text x="120.4" y="317.81666666666666" font-size="7.0" text-anchor="end" font-weight="normal" fill="#333333" textLength="13.2" lengthAdjust="spacingAndGlyphs" stroke="#333333" stroke-width="0.15">100</text>
<text x="120.4" y="291.95" font-size="7.0" text-anchor="end" font-weight="normal" fill="#333333" textLength="13.2" lengthAdjust="spacingAndGlyphs" stroke="#333333" stroke-width="0.15">150</text>
<line x1="126.2" y1="367.0" x2="178.8" y2="367.0" stroke="#3a3a3a" stroke-width="1.3"/>
<line x1="140.8" y1="367.0" x2="140.8" y2="369.0" stroke="#231f20" stroke-width="0.8"/>
<line x1="162.6" y1="367.0" x2="162.6" y2="369.0" stroke="#231f20" stroke-width="0.8"/>
<text x="54.6" y="276.1" font-size="7.9" text-anchor="start" font-weight="normal" fill="#222" textLength="23.4" lengthAdjust="spacingAndGlyphs" stroke="#222" stroke-width="0.15">Day 42</text>
<text x="140.0" y="276.0" font-size="7.9" text-anchor="start" font-weight="normal" fill="#222" textLength="23.6" lengthAdjust="spacingAndGlyphs" stroke="#222" stroke-width="0.15">Day 56</text>
<line x1="54.5" y1="286.6" x2="77.6" y2="286.6" stroke="#3a3a3a" stroke-width="1.2"/>
<line x1="54.5" y1="283.8" x2="54.5" y2="289.40000000000003" stroke="#3a3a3a" stroke-width="1.0"/>
<line x1="77.6" y1="283.8" x2="77.6" y2="289.40000000000003" stroke="#3a3a3a" stroke-width="1.0"/>
<path d="M63.50,281.55L63.50,283.85M62.50,282.12L64.50,283.27M64.50,282.12L62.50,283.27" stroke="#1a1a1a" stroke-width="0.85" stroke-linecap="round"/>
<circle cx="63.5" cy="282.7" r="0.55" fill="#1a1a1a"/>
<path d="M67.30,281.55L67.30,283.85M66.30,282.12L68.30,283.27M68.30,282.12L66.30,283.27" stroke="#1a1a1a" stroke-width="0.85" stroke-linecap="round"/>
<circle cx="67.3" cy="282.7" r="0.55" fill="#1a1a1a"/>
<line x1="140.5" y1="287.1" x2="163.4" y2="287.1" stroke="#3a3a3a" stroke-width="1.2"/>
<line x1="140.5" y1="284.3" x2="140.5" y2="289.90000000000003" stroke="#3a3a3a" stroke-width="1.0"/>
<line x1="163.4" y1="284.3" x2="163.4" y2="289.90000000000003" stroke="#3a3a3a" stroke-width="1.0"/>
<path d="M146.70,280.05L146.70,282.35M145.70,280.62L147.70,281.77M147.70,280.62L145.70,281.77" stroke="#1a1a1a" stroke-width="0.85" stroke-linecap="round"/>
<circle cx="146.7" cy="281.2" r="0.55" fill="#1a1a1a"/>
<path d="M150.40,280.05L150.40,282.35M149.40,280.62L151.40,281.77M151.40,280.62L149.40,281.77" stroke="#1a1a1a" stroke-width="0.85" stroke-linecap="round"/>
<circle cx="150.4" cy="281.2" r="0.55" fill="#1a1a1a"/>
<path d="M154.10,280.05L154.10,282.35M153.10,280.62L155.10,281.77M155.10,280.62L153.10,281.77" stroke="#1a1a1a" stroke-width="0.85" stroke-linecap="round"/>
<circle cx="154.1" cy="281.2" r="0.55" fill="#1a1a1a"/>
<text transform="translate(17.1,328.1) rotate(-90)" x="0" y="0" font-size="8.6" text-anchor="middle" font-weight="normal" fill="#1a1a1a" textLength="18.2" lengthAdjust="spacingAndGlyphs" stroke="#1a1a1a" stroke-width="0.22">BU/ml</text>
<text transform="translate(102.8,327.65) rotate(-90)" x="0" y="0" font-size="8.6" text-anchor="middle" font-weight="normal" fill="#1a1a1a" textLength="18.1" lengthAdjust="spacingAndGlyphs" stroke="#1a1a1a" stroke-width="0.22">BU/ml</text>
<text transform="translate(55.6,377.4) rotate(-45)" x="0" y="0" font-size="8.0" text-anchor="end" font-weight="normal" fill="#1a1a1a" textLength="46.0" lengthAdjust="spacingAndGlyphs" stroke="#1a1a1a" stroke-width="0.18">PAP 133-152</text>
<text transform="translate(77.8,378.8) rotate(-45)" x="0" y="0" font-size="8.0" text-anchor="end" font-weight="normal" fill="#1a1a1a" textLength="39.5" lengthAdjust="spacingAndGlyphs" stroke="#1a1a1a" stroke-width="0.18">ATX-F8-117</text>
<text transform="translate(141.8,377.6) rotate(-45)" x="0" y="0" font-size="8.0" text-anchor="end" font-weight="normal" fill="#1a1a1a" textLength="46.0" lengthAdjust="spacingAndGlyphs" stroke="#1a1a1a" stroke-width="0.18">PAP 133-152</text>
<text transform="translate(164.6,379.0) rotate(-45)" x="0" y="0" font-size="8.0" text-anchor="end" font-weight="normal" fill="#1a1a1a" textLength="39.5" lengthAdjust="spacingAndGlyphs" stroke="#1a1a1a" stroke-width="0.18">ATX-F8-117</text>
<circle cx="54.60" cy="311.10" r="2.6" fill="#c8102e"/>
<circle cx="54.60" cy="325.50" r="2.6" fill="#c8102e"/>
<circle cx="54.80" cy="342.00" r="2.6" fill="#c8102e"/>
<circle cx="55.50" cy="345.40" r="2.6" fill="#c8102e"/>
<circle cx="56.00" cy="347.80" r="2.6" fill="#c8102e"/>
<circle cx="54.60" cy="350.20" r="2.6" fill="#c8102e"/>
<circle cx="55.00" cy="353.10" r="2.6" fill="#c8102e"/>
<circle cx="52.20" cy="356.00" r="2.6" fill="#c8102e"/>
<circle cx="57.50" cy="356.00" r="2.6" fill="#c8102e"/>
<circle cx="50.70" cy="358.80" r="2.6" fill="#c8102e"/>
<circle cx="54.60" cy="358.80" r="2.6" fill="#c8102e"/>
<circle cx="59.40" cy="358.80" r="2.6" fill="#c8102e"/>
<circle cx="49.80" cy="362.20" r="2.6" fill="#c8102e"/>
<circle cx="53.60" cy="362.70" r="2.6" fill="#c8102e"/>
<circle cx="58.40" cy="362.20" r="2.6" fill="#c8102e"/>
<circle cx="56.00" cy="365.60" r="2.6" fill="#c8102e"/>
<circle cx="52.00" cy="365.20" r="2.6" fill="#c8102e"/>
<line x1="47.8" y1="352.8" x2="61.8" y2="352.8" stroke="#c8102e" stroke-width="1.1"/>
<circle cx="76.70" cy="308.50" r="2.25" fill="none" stroke="#1f5c96" stroke-width="1.2"/>
<circle cx="76.70" cy="314.20" r="2.25" fill="none" stroke="#1f5c96" stroke-width="1.2"/>
<circle cx="76.70" cy="318.10" r="2.25" fill="none" stroke="#1f5c96" stroke-width="1.2"/>
<circle cx="76.70" cy="353.60" r="2.25" fill="none" stroke="#1f5c96" stroke-width="1.2"/>
<circle cx="76.70" cy="357.00" r="2.25" fill="none" stroke="#1f5c96" stroke-width="1.2"/>
<circle cx="76.00" cy="360.00" r="2.25" fill="none" stroke="#1f5c96" stroke-width="1.2"/>
<circle cx="72.40" cy="362.20" r="2.25" fill="none" stroke="#1f5c96" stroke-width="1.2"/>
<circle cx="78.10" cy="363.20" r="2.25" fill="none" stroke="#1f5c96" stroke-width="1.2"/>
<circle cx="82.00" cy="364.60" r="2.25" fill="none" stroke="#1f5c96" stroke-width="1.2"/>
<circle cx="71.40" cy="366.00" r="2.25" fill="none" stroke="#1f5c96" stroke-width="1.2"/>
<circle cx="75.30" cy="366.00" r="2.25" fill="none" stroke="#1f5c96" stroke-width="1.2"/>
<circle cx="79.60" cy="366.00" r="2.25" fill="none" stroke="#1f5c96" stroke-width="1.2"/>
<circle cx="83.00" cy="366.30" r="2.25" fill="none" stroke="#1f5c96" stroke-width="1.2"/>
<line x1="69.8" y1="355.5" x2="83.8" y2="355.5" stroke="#1f5c96" stroke-width="1.1"/>
<line x1="76.8" y1="350.7" x2="76.8" y2="358.5" stroke="#1f5c96" stroke-width="1.0"/>
<line x1="73.7" y1="350.7" x2="79.89999999999999" y2="350.7" stroke="#1f5c96" stroke-width="1.0"/>
<line x1="73.7" y1="358.5" x2="79.89999999999999" y2="358.5" stroke="#1f5c96" stroke-width="1.0"/>
<circle cx="140.80" cy="295.00" r="2.6" fill="#c8102e"/>
<circle cx="137.50" cy="326.10" r="2.6" fill="#c8102e"/>
<circle cx="141.30" cy="325.30" r="2.6" fill="#c8102e"/>
<circle cx="144.40" cy="326.10" r="2.6" fill="#c8102e"/>
<circle cx="138.10" cy="332.40" r="2.6" fill="#c8102e"/>
<circle cx="142.50" cy="333.60" r="2.6" fill="#c8102e"/>
<circle cx="145.00" cy="335.50" r="2.6" fill="#c8102e"/>
<circle cx="136.90" cy="342.40" r="2.6" fill="#c8102e"/>
<circle cx="142.50" cy="343.00" r="2.6" fill="#c8102e"/>
<circle cx="146.30" cy="343.60" r="2.6" fill="#c8102e"/>
<circle cx="136.30" cy="345.50" r="2.6" fill="#c8102e"/>
<circle cx="140.00" cy="346.80" r="2.6" fill="#c8102e"/>
<circle cx="139.40" cy="349.90" r="2.6" fill="#c8102e"/>
<circle cx="136.30" cy="352.40" r="2.6" fill="#c8102e"/>
<circle cx="142.50" cy="352.40" r="2.6" fill="#c8102e"/>
<circle cx="145.60" cy="351.80" r="2.6" fill="#c8102e"/>
<circle cx="141.90" cy="354.30" r="2.6" fill="#c8102e"/>
<circle cx="140.20" cy="329.00" r="2.6" fill="#c8102e"/>
<circle cx="143.80" cy="329.60" r="2.6" fill="#c8102e"/>
<line x1="133.6" y1="337.8" x2="147.79999999999998" y2="337.8" stroke="#c8102e" stroke-width="1.1"/>
<circle cx="162.80" cy="307.30" r="2.25" fill="none" stroke="#1f5c96" stroke-width="1.2"/>
<circle cx="162.80" cy="326.10" r="2.25" fill="none" stroke="#1f5c96" stroke-width="1.2"/>
<circle cx="162.80" cy="330.50" r="2.25" fill="none" stroke="#1f5c96" stroke-width="1.2"/>
<circle cx="162.30" cy="341.80" r="2.25" fill="none" stroke="#1f5c96" stroke-width="1.2"/>
<circle cx="163.10" cy="344.30" r="2.25" fill="none" stroke="#1f5c96" stroke-width="1.2"/>
<circle cx="163.10" cy="351.10" r="2.25" fill="none" stroke="#1f5c96" stroke-width="1.2"/>
<circle cx="158.10" cy="361.10" r="2.25" fill="none" stroke="#1f5c96" stroke-width="1.2"/>
<circle cx="161.90" cy="360.50" r="2.25" fill="none" stroke="#1f5c96" stroke-width="1.2"/>
<circle cx="165.60" cy="362.40" r="2.25" fill="none" stroke="#1f5c96" stroke-width="1.2"/>
<circle cx="168.10" cy="364.30" r="2.25" fill="none" stroke="#1f5c96" stroke-width="1.2"/>
<circle cx="156.90" cy="365.50" r="2.25" fill="none" stroke="#1f5c96" stroke-width="1.2"/>
<circle cx="160.60" cy="366.10" r="2.25" fill="none" stroke="#1f5c96" stroke-width="1.2"/>
<circle cx="164.40" cy="366.10" r="2.25" fill="none" stroke="#1f5c96" stroke-width="1.2"/>
<circle cx="167.50" cy="366.50" r="2.25" fill="none" stroke="#1f5c96" stroke-width="1.2"/>
<line x1="156.3" y1="353.0" x2="170.3" y2="353.0" stroke="#1f5c96" stroke-width="1.1"/>
<line x1="163.3" y1="348.6" x2="163.3" y2="357.4" stroke="#1f5c96" stroke-width="1.0"/>
<line x1="159.10000000000002" y1="348.6" x2="167.5" y2="348.6" stroke="#1f5c96" stroke-width="1.0"/>
<line x1="159.10000000000002" y1="357.4" x2="167.5" y2="357.4" stroke="#1f5c96" stroke-width="1.0"/>
<text x="208.4" y="269.9" font-size="10.4" text-anchor="start" font-weight="bold" fill="#111" stroke="#111" stroke-width="0.3">D</text>
<line x1="239.4" y1="287.6" x2="239.4" y2="366.5" stroke="#231f20" stroke-width="1.2"/>
<line x1="236.4" y1="366.5" x2="239.4" y2="366.5" stroke="#231f20" stroke-width="1.0"/>
<line x1="237.20000000000002" y1="362.555" x2="239.4" y2="362.555" stroke="#231f20" stroke-width="0.95"/>
<line x1="237.20000000000002" y1="358.61" x2="239.4" y2="358.61" stroke="#231f20" stroke-width="0.95"/>
<line x1="237.20000000000002" y1="354.665" x2="239.4" y2="354.665" stroke="#231f20" stroke-width="0.95"/>
<line x1="236.4" y1="350.72" x2="239.4" y2="350.72" stroke="#231f20" stroke-width="1.0"/>
<line x1="237.20000000000002" y1="346.775" x2="239.4" y2="346.775" stroke="#231f20" stroke-width="0.95"/>
<line x1="237.20000000000002" y1="342.83" x2="239.4" y2="342.83" stroke="#231f20" stroke-width="0.95"/>
<line x1="237.20000000000002" y1="338.885" x2="239.4" y2="338.885" stroke="#231f20" stroke-width="0.95"/>
<line x1="236.4" y1="334.94" x2="239.4" y2="334.94" stroke="#231f20" stroke-width="1.0"/>
<line x1="237.20000000000002" y1="330.995" x2="239.4" y2="330.995" stroke="#231f20" stroke-width="0.95"/>
<line x1="237.20000000000002" y1="327.05" x2="239.4" y2="327.05" stroke="#231f20" stroke-width="0.95"/>
<line x1="237.20000000000002" y1="323.105" x2="239.4" y2="323.105" stroke="#231f20" stroke-width="0.95"/>
<line x1="236.4" y1="319.16" x2="239.4" y2="319.16" stroke="#231f20" stroke-width="1.0"/>
<line x1="237.20000000000002" y1="315.21500000000003" x2="239.4" y2="315.21500000000003" stroke="#231f20" stroke-width="0.95"/>
<line x1="237.20000000000002" y1="311.27000000000004" x2="239.4" y2="311.27000000000004" stroke="#231f20" stroke-width="0.95"/>
<line x1="237.20000000000002" y1="307.32500000000005" x2="239.4" y2="307.32500000000005" stroke="#231f20" stroke-width="0.95"/>
<line x1="236.4" y1="303.38" x2="239.4" y2="303.38" stroke="#231f20" stroke-width="1.0"/>
<line x1="237.20000000000002" y1="299.435" x2="239.4" y2="299.435" stroke="#231f20" stroke-width="0.95"/>
<line x1="237.20000000000002" y1="295.49" x2="239.4" y2="295.49" stroke="#231f20" stroke-width="0.95"/>
<line x1="237.20000000000002" y1="291.545" x2="239.4" y2="291.545" stroke="#231f20" stroke-width="0.95"/>
<line x1="236.4" y1="287.6" x2="239.4" y2="287.6" stroke="#231f20" stroke-width="1.0"/>
<text x="233.6" y="369.05" font-size="7.0" text-anchor="end" font-weight="normal" fill="#333333" textLength="4.4" lengthAdjust="spacingAndGlyphs" stroke="#333333" stroke-width="0.15">0</text>
<text x="233.6" y="353.27000000000004" font-size="7.0" text-anchor="end" font-weight="normal" fill="#333333" textLength="8.8" lengthAdjust="spacingAndGlyphs" stroke="#333333" stroke-width="0.15">20</text>
<text x="233.6" y="337.49" font-size="7.0" text-anchor="end" font-weight="normal" fill="#333333" textLength="8.8" lengthAdjust="spacingAndGlyphs" stroke="#333333" stroke-width="0.15">40</text>
<text x="233.6" y="321.71000000000004" font-size="7.0" text-anchor="end" font-weight="normal" fill="#333333" textLength="8.8" lengthAdjust="spacingAndGlyphs" stroke="#333333" stroke-width="0.15">60</text>
<text x="233.6" y="305.93" font-size="7.0" text-anchor="end" font-weight="normal" fill="#333333" textLength="8.8" lengthAdjust="spacingAndGlyphs" stroke="#333333" stroke-width="0.15">80</text>
<text x="233.6" y="290.15000000000003" font-size="7.0" text-anchor="end" font-weight="normal" fill="#333333" textLength="13.2" lengthAdjust="spacingAndGlyphs" stroke="#333333" stroke-width="0.15">100</text>
<line x1="239.4" y1="366.5" x2="292.8" y2="366.5" stroke="#3a3a3a" stroke-width="1.3"/>
<line x1="253.4" y1="366.5" x2="253.4" y2="368.5" stroke="#231f20" stroke-width="0.8"/>
<line x1="279.0" y1="366.5" x2="279.0" y2="368.5" stroke="#231f20" stroke-width="0.8"/>
<line x1="348.9" y1="288.0" x2="348.9" y2="367.0" stroke="#231f20" stroke-width="1.2"/>
<line x1="345.9" y1="367.0" x2="348.9" y2="367.0" stroke="#231f20" stroke-width="1.0"/>
<line x1="346.7" y1="363.84" x2="348.9" y2="363.84" stroke="#231f20" stroke-width="0.95"/>
<line x1="346.7" y1="360.68" x2="348.9" y2="360.68" stroke="#231f20" stroke-width="0.95"/>
<line x1="346.7" y1="357.52" x2="348.9" y2="357.52" stroke="#231f20" stroke-width="0.95"/>
<line x1="346.7" y1="354.36" x2="348.9" y2="354.36" stroke="#231f20" stroke-width="0.95"/>
<line x1="345.9" y1="351.2" x2="348.9" y2="351.2" stroke="#231f20" stroke-width="1.0"/>
<line x1="346.7" y1="348.04" x2="348.9" y2="348.04" stroke="#231f20" stroke-width="0.95"/>
<line x1="346.7" y1="344.88" x2="348.9" y2="344.88" stroke="#231f20" stroke-width="0.95"/>
<line x1="346.7" y1="341.72" x2="348.9" y2="341.72" stroke="#231f20" stroke-width="0.95"/>
<line x1="346.7" y1="338.56" x2="348.9" y2="338.56" stroke="#231f20" stroke-width="0.95"/>
<line x1="345.9" y1="335.4" x2="348.9" y2="335.4" stroke="#231f20" stroke-width="1.0"/>
<line x1="346.7" y1="332.24" x2="348.9" y2="332.24" stroke="#231f20" stroke-width="0.95"/>
<line x1="346.7" y1="329.08" x2="348.9" y2="329.08" stroke="#231f20" stroke-width="0.95"/>
<line x1="346.7" y1="325.92" x2="348.9" y2="325.92" stroke="#231f20" stroke-width="0.95"/>
<line x1="346.7" y1="322.76" x2="348.9" y2="322.76" stroke="#231f20" stroke-width="0.95"/>
<line x1="345.9" y1="319.6" x2="348.9" y2="319.6" stroke="#231f20" stroke-width="1.0"/>
<line x1="346.7" y1="316.44" x2="348.9" y2="316.44" stroke="#231f20" stroke-width="0.95"/>
<line x1="346.7" y1="313.28" x2="348.9" y2="313.28" stroke="#231f20" stroke-width="0.95"/>
<line x1="346.7" y1="310.12" x2="348.9" y2="310.12" stroke="#231f20" stroke-width="0.95"/>
<line x1="346.7" y1="306.96" x2="348.9" y2="306.96" stroke="#231f20" stroke-width="0.95"/>
<line x1="345.9" y1="303.8" x2="348.9" y2="303.8" stroke="#231f20" stroke-width="1.0"/>
<line x1="346.7" y1="300.64" x2="348.9" y2="300.64" stroke="#231f20" stroke-width="0.95"/>
<line x1="346.7" y1="297.48" x2="348.9" y2="297.48" stroke="#231f20" stroke-width="0.95"/>
<line x1="346.7" y1="294.32" x2="348.9" y2="294.32" stroke="#231f20" stroke-width="0.95"/>
<line x1="346.7" y1="291.15999999999997" x2="348.9" y2="291.15999999999997" stroke="#231f20" stroke-width="0.95"/>
<line x1="345.9" y1="288.0" x2="348.9" y2="288.0" stroke="#231f20" stroke-width="1.0"/>
<text x="342.4" y="369.55" font-size="7.0" text-anchor="end" font-weight="normal" fill="#333333" textLength="4.4" lengthAdjust="spacingAndGlyphs" stroke="#333333" stroke-width="0.15">0</text>
<text x="342.4" y="353.75" font-size="7.0" text-anchor="end" font-weight="normal" fill="#333333" textLength="8.8" lengthAdjust="spacingAndGlyphs" stroke="#333333" stroke-width="0.15">10</text>
<text x="342.4" y="337.95" font-size="7.0" text-anchor="end" font-weight="normal" fill="#333333" textLength="8.8" lengthAdjust="spacingAndGlyphs" stroke="#333333" stroke-width="0.15">20</text>
<text x="342.4" y="322.15000000000003" font-size="7.0" text-anchor="end" font-weight="normal" fill="#333333" textLength="8.8" lengthAdjust="spacingAndGlyphs" stroke="#333333" stroke-width="0.15">30</text>
<text x="342.4" y="306.35" font-size="7.0" text-anchor="end" font-weight="normal" fill="#333333" textLength="8.8" lengthAdjust="spacingAndGlyphs" stroke="#333333" stroke-width="0.15">40</text>
<text x="342.4" y="290.55" font-size="7.0" text-anchor="end" font-weight="normal" fill="#333333" textLength="8.8" lengthAdjust="spacingAndGlyphs" stroke="#333333" stroke-width="0.15">50</text>
<line x1="348.9" y1="367.0" x2="401.2" y2="367.0" stroke="#3a3a3a" stroke-width="1.3"/>
<line x1="361.5" y1="367.0" x2="361.5" y2="369.0" stroke="#231f20" stroke-width="0.8"/>
<line x1="387.7" y1="367.0" x2="387.7" y2="369.0" stroke="#231f20" stroke-width="0.8"/>
<line x1="447.2" y1="287.5" x2="447.2" y2="366.8" stroke="#231f20" stroke-width="1.2"/>
<line x1="444.2" y1="366.8" x2="447.2" y2="366.8" stroke="#231f20" stroke-width="1.0"/>
<line x1="445.0" y1="363.628" x2="447.2" y2="363.628" stroke="#231f20" stroke-width="0.95"/>
<line x1="445.0" y1="360.456" x2="447.2" y2="360.456" stroke="#231f20" stroke-width="0.95"/>
<line x1="445.0" y1="357.284" x2="447.2" y2="357.284" stroke="#231f20" stroke-width="0.95"/>
<line x1="445.0" y1="354.112" x2="447.2" y2="354.112" stroke="#231f20" stroke-width="0.95"/>
<line x1="444.2" y1="350.94" x2="447.2" y2="350.94" stroke="#231f20" stroke-width="1.0"/>
<line x1="445.0" y1="347.76800000000003" x2="447.2" y2="347.76800000000003" stroke="#231f20" stroke-width="0.95"/>
<line x1="445.0" y1="344.596" x2="447.2" y2="344.596" stroke="#231f20" stroke-width="0.95"/>
<line x1="445.0" y1="341.424" x2="447.2" y2="341.424" stroke="#231f20" stroke-width="0.95"/>
<line x1="445.0" y1="338.252" x2="447.2" y2="338.252" stroke="#231f20" stroke-width="0.95"/>
<line x1="444.2" y1="335.08" x2="447.2" y2="335.08" stroke="#231f20" stroke-width="1.0"/>
<line x1="445.0" y1="331.908" x2="447.2" y2="331.908" stroke="#231f20" stroke-width="0.95"/>
<line x1="445.0" y1="328.736" x2="447.2" y2="328.736" stroke="#231f20" stroke-width="0.95"/>
<line x1="445.0" y1="325.564" x2="447.2" y2="325.564" stroke="#231f20" stroke-width="0.95"/>
<line x1="445.0" y1="322.392" x2="447.2" y2="322.392" stroke="#231f20" stroke-width="0.95"/>
<line x1="444.2" y1="319.22" x2="447.2" y2="319.22" stroke="#231f20" stroke-width="1.0"/>
<line x1="445.0" y1="316.048" x2="447.2" y2="316.048" stroke="#231f20" stroke-width="0.95"/>
<line x1="445.0" y1="312.876" x2="447.2" y2="312.876" stroke="#231f20" stroke-width="0.95"/>
<line x1="445.0" y1="309.704" x2="447.2" y2="309.704" stroke="#231f20" stroke-width="0.95"/>
<line x1="445.0" y1="306.532" x2="447.2" y2="306.532" stroke="#231f20" stroke-width="0.95"/>
<line x1="444.2" y1="303.36" x2="447.2" y2="303.36" stroke="#231f20" stroke-width="1.0"/>
<line x1="445.0" y1="300.188" x2="447.2" y2="300.188" stroke="#231f20" stroke-width="0.95"/>
<line x1="445.0" y1="297.01599999999996" x2="447.2" y2="297.01599999999996" stroke="#231f20" stroke-width="0.95"/>
<line x1="445.0" y1="293.844" x2="447.2" y2="293.844" stroke="#231f20" stroke-width="0.95"/>
<line x1="445.0" y1="290.672" x2="447.2" y2="290.672" stroke="#231f20" stroke-width="0.95"/>
<line x1="444.2" y1="287.5" x2="447.2" y2="287.5" stroke="#231f20" stroke-width="1.0"/>
<text x="441.8" y="369.35" font-size="7.0" text-anchor="end" font-weight="normal" fill="#333333" textLength="4.4" lengthAdjust="spacingAndGlyphs" stroke="#333333" stroke-width="0.15">0</text>
<text x="441.8" y="353.49" font-size="7.0" text-anchor="end" font-weight="normal" fill="#333333" textLength="8.8" lengthAdjust="spacingAndGlyphs" stroke="#333333" stroke-width="0.15">10</text>
<text x="441.8" y="337.63" font-size="7.0" text-anchor="end" font-weight="normal" fill="#333333" textLength="8.8" lengthAdjust="spacingAndGlyphs" stroke="#333333" stroke-width="0.15">20</text>
<text x="441.8" y="321.77000000000004" font-size="7.0" text-anchor="end" font-weight="normal" fill="#333333" textLength="8.8" lengthAdjust="spacingAndGlyphs" stroke="#333333" stroke-width="0.15">30</text>
<text x="441.8" y="305.91" font-size="7.0" text-anchor="end" font-weight="normal" fill="#333333" textLength="8.8" lengthAdjust="spacingAndGlyphs" stroke="#333333" stroke-width="0.15">40</text>
<text x="441.8" y="290.05" font-size="7.0" text-anchor="end" font-weight="normal" fill="#333333" textLength="8.8" lengthAdjust="spacingAndGlyphs" stroke="#333333" stroke-width="0.15">50</text>
<line x1="447.2" y1="366.8" x2="499.5" y2="366.8" stroke="#3a3a3a" stroke-width="1.3"/>
<line x1="461.0" y1="366.8" x2="461.0" y2="368.8" stroke="#231f20" stroke-width="0.8"/>
<line x1="487.5" y1="366.8" x2="487.5" y2="368.8" stroke="#231f20" stroke-width="0.8"/>
<line x1="252.5" y1="290.8" x2="279.5" y2="290.8" stroke="#3a3a3a" stroke-width="1.2"/>
<line x1="252.5" y1="288.0" x2="252.5" y2="293.6" stroke="#3a3a3a" stroke-width="1.0"/>
<line x1="279.5" y1="288.0" x2="279.5" y2="293.6" stroke="#3a3a3a" stroke-width="1.0"/>
<path d="M260.80,283.75L260.80,286.05M259.80,284.32L261.80,285.47M261.80,284.32L259.80,285.47" stroke="#1a1a1a" stroke-width="0.85" stroke-linecap="round"/>
<circle cx="260.8" cy="284.9" r="0.55" fill="#1a1a1a"/>
<path d="M264.50,283.75L264.50,286.05M263.50,284.32L265.50,285.47M265.50,284.32L263.50,285.47" stroke="#1a1a1a" stroke-width="0.85" stroke-linecap="round"/>
<circle cx="264.5" cy="284.9" r="0.55" fill="#1a1a1a"/>
<path d="M268.10,283.75L268.10,286.05M267.10,284.32L269.10,285.47M269.10,284.32L267.10,285.47" stroke="#1a1a1a" stroke-width="0.85" stroke-linecap="round"/>
<circle cx="268.1" cy="284.9" r="0.55" fill="#1a1a1a"/>
<line x1="360.6" y1="296.3" x2="387.6" y2="296.3" stroke="#3a3a3a" stroke-width="1.2"/>
<line x1="360.6" y1="293.5" x2="360.6" y2="299.1" stroke="#3a3a3a" stroke-width="1.0"/>
<line x1="387.6" y1="293.5" x2="387.6" y2="299.1" stroke="#3a3a3a" stroke-width="1.0"/>
<text x="374.1" y="292.9" font-size="6.8" text-anchor="middle" font-weight="normal" fill="#555" stroke="#555" stroke-width="0.15">ns</text>
<line x1="460.0" y1="296.4" x2="487.1" y2="296.4" stroke="#3a3a3a" stroke-width="1.2"/>
<line x1="460.0" y1="293.59999999999997" x2="460.0" y2="299.2" stroke="#3a3a3a" stroke-width="1.0"/>
<line x1="487.1" y1="293.59999999999997" x2="487.1" y2="299.2" stroke="#3a3a3a" stroke-width="1.0"/>
<text x="473.55" y="293.0" font-size="6.8" text-anchor="middle" font-weight="normal" fill="#555" stroke="#555" stroke-width="0.15">ns</text>
<text transform="translate(217.0,361.0) rotate(-90)" x="0" y="0" font-size="8.6" text-anchor="start" font-weight="normal" fill="#1a1a1a" textLength="41.0" lengthAdjust="spacingAndGlyphs" stroke="#1a1a1a" stroke-width="0.22">Anti-FVIII IgG1</text>
<text transform="translate(217.0,316.4) rotate(-90)" x="0" y="0" font-size="8.6" text-anchor="start" font-weight="normal" fill="#1a1a1a" textLength="22.8" lengthAdjust="spacingAndGlyphs" stroke="#1a1a1a" stroke-width="0.22">(μg/ml)</text>
<text transform="translate(327.9,361.3) rotate(-90)" x="0" y="0" font-size="8.6" text-anchor="start" font-weight="normal" fill="#1a1a1a" textLength="43.1" lengthAdjust="spacingAndGlyphs" stroke="#1a1a1a" stroke-width="0.22">Anti-FVIII IgG2a</text>
<text transform="translate(327.9,315.2) rotate(-90)" x="0" y="0" font-size="8.6" text-anchor="start" font-weight="normal" fill="#1a1a1a" textLength="21.6" lengthAdjust="spacingAndGlyphs" stroke="#1a1a1a" stroke-width="0.22">(μg/ml)</text>
<text transform="translate(427.6,370.2) rotate(-90)" x="0" y="0" font-size="8.6" text-anchor="start" font-weight="normal" fill="#1a1a1a" textLength="47.3" lengthAdjust="spacingAndGlyphs" stroke="#1a1a1a" stroke-width="0.22">Anti-FVIII IgG2b</text>
<text transform="translate(427.6,321.0) rotate(-90) scale(0.7259,1)" font-size="8.6" text-anchor="start" fill="#1a1a1a" stroke="#1a1a1a" stroke-width="0.22">(x 10<tspan font-size="5.6" dy="-3.2">3</tspan><tspan dy="3.2"> AU/ml)</tspan></text>
<circle cx="249.50" cy="308.10" r="2.6" fill="#c8102e"/>
<circle cx="256.40" cy="304.80" r="2.6" fill="#c8102e"/>
<circle cx="247.60" cy="334.10" r="2.6" fill="#c8102e"/>
<circle cx="252.60" cy="335.60" r="2.6" fill="#c8102e"/>
<circle cx="258.20" cy="333.10" r="2.6" fill="#c8102e"/>
<circle cx="247.60" cy="343.20" r="2.6" fill="#c8102e"/>
<circle cx="252.60" cy="344.20" r="2.6" fill="#c8102e"/>
<circle cx="258.70" cy="343.20" r="2.6" fill="#c8102e"/>
<circle cx="253.10" cy="346.20" r="2.6" fill="#c8102e"/>
<circle cx="247.60" cy="352.80" r="2.6" fill="#c8102e"/>
<circle cx="252.10" cy="353.30" r="2.6" fill="#c8102e"/>
<circle cx="256.20" cy="352.30" r="2.6" fill="#c8102e"/>
<circle cx="258.70" cy="351.30" r="2.6" fill="#c8102e"/>
<circle cx="248.10" cy="356.30" r="2.6" fill="#c8102e"/>
<circle cx="252.50" cy="356.50" r="2.6" fill="#c8102e"/>
<circle cx="258.70" cy="356.30" r="2.6" fill="#c8102e"/>
<circle cx="255.20" cy="359.30" r="2.6" fill="#c8102e"/>
<circle cx="252.10" cy="361.90" r="2.6" fill="#c8102e"/>
<circle cx="250.00" cy="359.00" r="2.6" fill="#c8102e"/>
<line x1="244.5" y1="344.2" x2="261.7" y2="344.2" stroke="#c8102e" stroke-width="1.1"/>
<line x1="253.1" y1="341.2" x2="253.1" y2="348.7" stroke="#c8102e" stroke-width="1.0"/>
<line x1="249.6" y1="341.2" x2="256.6" y2="341.2" stroke="#c8102e" stroke-width="1.0"/>
<line x1="249.6" y1="348.7" x2="256.6" y2="348.7" stroke="#c8102e" stroke-width="1.0"/>
<circle cx="279.00" cy="319.60" r="2.25" fill="none" stroke="#1f5c96" stroke-width="1.2"/>
<circle cx="279.60" cy="347.60" r="2.25" fill="none" stroke="#1f5c96" stroke-width="1.2"/>
<circle cx="275.40" cy="353.30" r="2.25" fill="none" stroke="#1f5c96" stroke-width="1.2"/>
<circle cx="273.90" cy="355.20" r="2.25" fill="none" stroke="#1f5c96" stroke-width="1.2"/>
<circle cx="282.60" cy="354.10" r="2.25" fill="none" stroke="#1f5c96" stroke-width="1.2"/>
<circle cx="285.10" cy="355.50" r="2.25" fill="none" stroke="#1f5c96" stroke-width="1.2"/>
<circle cx="276.80" cy="357.70" r="2.25" fill="none" stroke="#1f5c96" stroke-width="1.2"/>
<circle cx="281.90" cy="357.70" r="2.25" fill="none" stroke="#1f5c96" stroke-width="1.2"/>
<circle cx="279.00" cy="361.00" r="2.25" fill="none" stroke="#1f5c96" stroke-width="1.2"/>
<circle cx="273.20" cy="365.60" r="2.25" fill="none" stroke="#1f5c96" stroke-width="1.2"/>
<circle cx="276.80" cy="365.30" r="2.25" fill="none" stroke="#1f5c96" stroke-width="1.2"/>
<circle cx="280.40" cy="365.30" r="2.25" fill="none" stroke="#1f5c96" stroke-width="1.2"/>
<circle cx="284.00" cy="365.60" r="2.25" fill="none" stroke="#1f5c96" stroke-width="1.2"/>
<circle cx="286.20" cy="365.60" r="2.25" fill="none" stroke="#1f5c96" stroke-width="1.2"/>
<line x1="270.3" y1="357.9" x2="287.7" y2="357.9" stroke="#1f5c96" stroke-width="1.1"/>
<circle cx="355.00" cy="366.80" r="2.6" fill="#c8102e"/>
<circle cx="358.50" cy="366.80" r="2.6" fill="#c8102e"/>
<circle cx="362.00" cy="366.80" r="2.6" fill="#c8102e"/>
<circle cx="365.50" cy="366.80" r="2.6" fill="#c8102e"/>
<circle cx="367.60" cy="366.80" r="2.6" fill="#c8102e"/>
<circle cx="367.60" cy="364.60" r="2.6" fill="#c8102e"/>
<circle cx="381.00" cy="366.80" r="2.25" fill="none" stroke="#1f5c96" stroke-width="1.2"/>
<circle cx="384.50" cy="366.80" r="2.25" fill="none" stroke="#1f5c96" stroke-width="1.2"/>
<circle cx="388.00" cy="366.80" r="2.25" fill="none" stroke="#1f5c96" stroke-width="1.2"/>
<circle cx="391.50" cy="366.80" r="2.25" fill="none" stroke="#1f5c96" stroke-width="1.2"/>
<circle cx="395.00" cy="366.80" r="2.25" fill="none" stroke="#1f5c96" stroke-width="1.2"/>
<circle cx="382.40" cy="364.00" r="2.25" fill="none" stroke="#1f5c96" stroke-width="1.2"/>
<circle cx="393.60" cy="362.20" r="2.25" fill="none" stroke="#1f5c96" stroke-width="1.2"/>
<rect x="354" y="364.6" width="14" height="4.6" rx="2.3" fill="#c8102e"/>
<rect x="380.2" y="364.6" width="15.6" height="4.6" rx="2.3" fill="#1f5c96"/>
<circle cx="455.60" cy="339.80" r="2.6" fill="#c8102e"/>
<circle cx="461.40" cy="345.00" r="2.6" fill="#c8102e"/>
<circle cx="466.30" cy="341.80" r="2.6" fill="#c8102e"/>
<circle cx="455.80" cy="357.50" r="2.6" fill="#c8102e"/>
<circle cx="460.40" cy="357.50" r="2.6" fill="#c8102e"/>
<circle cx="466.20" cy="355.50" r="2.6" fill="#c8102e"/>
<circle cx="454.00" cy="361.30" r="2.6" fill="#c8102e"/>
<circle cx="467.00" cy="361.30" r="2.6" fill="#c8102e"/>
<circle cx="459.50" cy="364.70" r="2.6" fill="#c8102e"/>
<circle cx="463.00" cy="364.70" r="2.6" fill="#c8102e"/>
<circle cx="461.30" cy="367.60" r="2.6" fill="#c8102e"/>
<circle cx="457.20" cy="363.60" r="2.6" fill="#c8102e"/>
<circle cx="464.50" cy="360.50" r="2.6" fill="#c8102e"/>
<circle cx="458.00" cy="360.00" r="2.6" fill="#c8102e"/>
<circle cx="462.00" cy="361.00" r="2.6" fill="#c8102e"/>
<circle cx="455.50" cy="365.00" r="2.6" fill="#c8102e"/>
<circle cx="466.00" cy="364.50" r="2.6" fill="#c8102e"/>
<line x1="454.5" y1="358.8" x2="467.5" y2="358.8" stroke="#c8102e" stroke-width="1.1"/>
<circle cx="482.50" cy="340.20" r="2.25" fill="none" stroke="#1f5c96" stroke-width="1.2"/>
<circle cx="487.90" cy="341.00" r="2.25" fill="none" stroke="#1f5c96" stroke-width="1.2"/>
<circle cx="492.90" cy="337.20" r="2.25" fill="none" stroke="#1f5c96" stroke-width="1.2"/>
<circle cx="487.40" cy="349.40" r="2.25" fill="none" stroke="#1f5c96" stroke-width="1.2"/>
<circle cx="482.10" cy="354.80" r="2.25" fill="none" stroke="#1f5c96" stroke-width="1.2"/>
<circle cx="492.80" cy="352.90" r="2.25" fill="none" stroke="#1f5c96" stroke-width="1.2"/>
<circle cx="486.80" cy="358.50" r="2.25" fill="none" stroke="#1f5c96" stroke-width="1.2"/>
<circle cx="481.20" cy="364.30" r="2.25" fill="none" stroke="#1f5c96" stroke-width="1.2"/>
<circle cx="483.80" cy="365.00" r="2.25" fill="none" stroke="#1f5c96" stroke-width="1.2"/>
<circle cx="486.40" cy="365.40" r="2.25" fill="none" stroke="#1f5c96" stroke-width="1.2"/>
<circle cx="489.00" cy="365.40" r="2.25" fill="none" stroke="#1f5c96" stroke-width="1.2"/>
<circle cx="491.60" cy="365.00" r="2.25" fill="none" stroke="#1f5c96" stroke-width="1.2"/>
<circle cx="494.00" cy="364.30" r="2.25" fill="none" stroke="#1f5c96" stroke-width="1.2"/>
<circle cx="482.50" cy="366.20" r="2.25" fill="none" stroke="#1f5c96" stroke-width="1.2"/>
<circle cx="485.50" cy="366.60" r="2.25" fill="none" stroke="#1f5c96" stroke-width="1.2"/>
<circle cx="488.50" cy="366.60" r="2.25" fill="none" stroke="#1f5c96" stroke-width="1.2"/>
<circle cx="491.50" cy="366.20" r="2.25" fill="none" stroke="#1f5c96" stroke-width="1.2"/>
<circle cx="487.50" cy="363.00" r="2.25" fill="none" stroke="#1f5c96" stroke-width="1.2"/>
<line x1="478.4" y1="359.1" x2="496.4" y2="359.1" stroke="#1f5c96" stroke-width="1.1"/>
<path d="M479.6,362.6 Q487.5,366.2 495.4,362.6 L495.6,365.2 Q495.2,368.6 487.5,368.6 Q479.8,368.6 479.4,365.2 Z" fill="#1f5c96"/>
<rect x="0.5" y="0.5" width="519" height="415" fill="none" stroke="#111" stroke-width="1.2"/>
</svg>
</body></html>
